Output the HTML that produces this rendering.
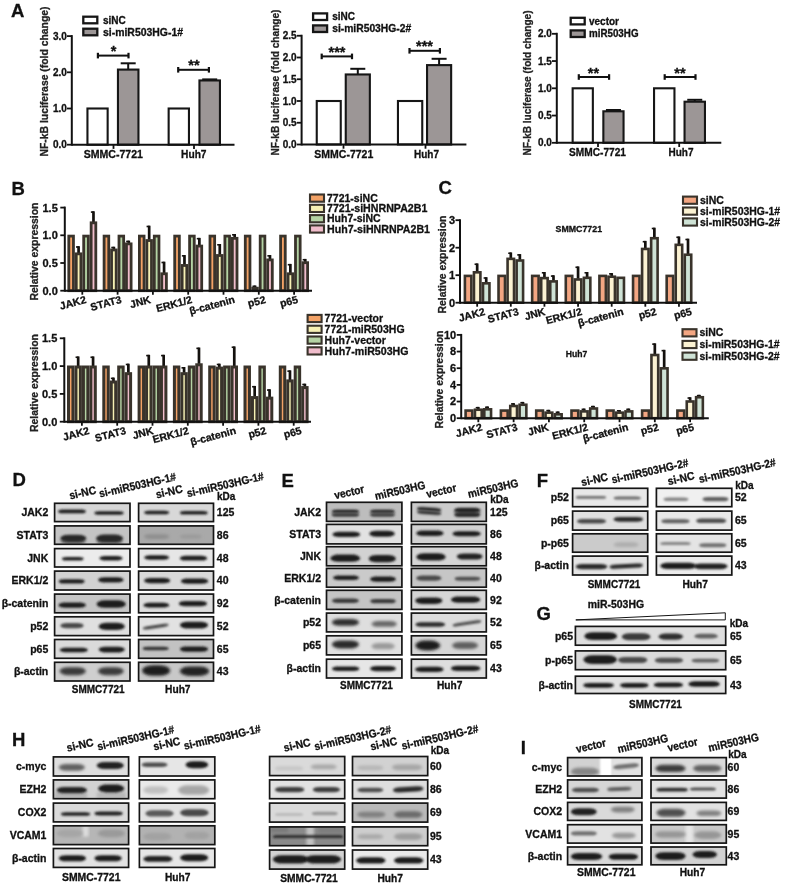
<!DOCTYPE html>
<html><head><meta charset="utf-8"><title>Figure</title>
<style>
html,body{margin:0;padding:0;background:#fff;}
body{width:785px;height:885px;overflow:hidden;}
svg{display:block;font-family:"Liberation Sans", Arial, sans-serif;}
</style></head><body>
<svg width="785" height="885" viewBox="0 0 785 885">
<rect width="785" height="885" fill="#ffffff"/>
<defs>
<filter id="bl1" x="-20%" y="-100%" width="140%" height="300%"><feGaussianBlur stdDeviation="0.8"/></filter>
<filter id="bl2" x="-20%" y="-100%" width="140%" height="300%"><feGaussianBlur stdDeviation="1.6"/></filter>
<filter id="bl3" x="-30%" y="-150%" width="160%" height="400%"><feGaussianBlur stdDeviation="2.6"/></filter>
</defs>
<text x="11" y="16.8" font-size="18.5" font-weight="bold" fill="#111" stroke="#111" stroke-width="0.3">A</text>
<rect x="87.45" y="108.50" width="20.20" height="36.20" fill="#ffffff" stroke="#161616" stroke-width="2.1"/>
<line x1="128.2" y1="69.58499999999998" x2="128.2" y2="63.3" stroke="#111" stroke-width="2.0" stroke-linecap="butt"/>
<line x1="120.69999999999999" y1="63.3" x2="135.7" y2="63.3" stroke="#111" stroke-width="2.0" stroke-linecap="butt"/>
<rect x="117.95" y="69.58" width="20.50" height="75.12" fill="#9c9696" stroke="#161616" stroke-width="2.1"/>
<rect x="168.65" y="108.50" width="20.30" height="36.20" fill="#ffffff" stroke="#161616" stroke-width="2.1"/>
<line x1="209.7" y1="80.445" x2="209.7" y2="79.4" stroke="#111" stroke-width="2.0" stroke-linecap="butt"/>
<line x1="202.2" y1="79.4" x2="217.2" y2="79.4" stroke="#111" stroke-width="2.0" stroke-linecap="butt"/>
<rect x="199.45" y="80.44" width="20.50" height="64.25" fill="#9c9696" stroke="#161616" stroke-width="2.1"/>
<line x1="71.8" y1="35.09999999999998" x2="71.8" y2="145.7" stroke="#111" stroke-width="2.0" stroke-linecap="butt"/>
<line x1="71.8" y1="144.7" x2="234.5" y2="144.7" stroke="#111" stroke-width="2.0" stroke-linecap="butt"/>
<line x1="67.0" y1="144.7" x2="71.8" y2="144.7" stroke="#111" stroke-width="1.8" stroke-linecap="butt"/>
<text x="66.8" y="148.29999999999998" font-size="10" font-weight="bold" text-anchor="end" fill="#111" stroke="#111" stroke-width="0.3">0.0</text>
<line x1="67.0" y1="108.49999999999999" x2="71.8" y2="108.49999999999999" stroke="#111" stroke-width="1.8" stroke-linecap="butt"/>
<text x="66.8" y="112.09999999999998" font-size="10" font-weight="bold" text-anchor="end" fill="#111" stroke="#111" stroke-width="0.3">1.0</text>
<line x1="67.0" y1="72.29999999999998" x2="71.8" y2="72.29999999999998" stroke="#111" stroke-width="1.8" stroke-linecap="butt"/>
<text x="66.8" y="75.89999999999998" font-size="10" font-weight="bold" text-anchor="end" fill="#111" stroke="#111" stroke-width="0.3">2.0</text>
<line x1="67.0" y1="36.09999999999998" x2="71.8" y2="36.09999999999998" stroke="#111" stroke-width="1.8" stroke-linecap="butt"/>
<text x="66.8" y="39.69999999999998" font-size="10" font-weight="bold" text-anchor="end" fill="#111" stroke="#111" stroke-width="0.3">3.0</text>
<line x1="113.5" y1="144.7" x2="113.5" y2="148.89999999999998" stroke="#111" stroke-width="1.8" stroke-linecap="butt"/>
<text x="113.3" y="157.79999999999998" font-size="10.8" font-weight="bold" text-anchor="middle" textLength="59.3" lengthAdjust="spacingAndGlyphs" fill="#111" stroke="#111" stroke-width="0.3">SMMC-7721</text>
<line x1="194" y1="144.7" x2="194" y2="148.89999999999998" stroke="#111" stroke-width="1.8" stroke-linecap="butt"/>
<text x="193.8" y="157.79999999999998" font-size="10.8" font-weight="bold" text-anchor="middle" textLength="25.5" lengthAdjust="spacingAndGlyphs" fill="#111" stroke="#111" stroke-width="0.3">Huh7</text>
<text x="48" y="81.5" font-size="10.5" font-weight="bold" text-anchor="middle" transform="rotate(-90 48 81.5)" textLength="150" lengthAdjust="spacingAndGlyphs" fill="#222" stroke="#222" stroke-width="0.3">NF-kB luciferase (fold change)</text>
<rect x="83.30" y="16.70" width="14.00" height="6.60" fill="#ffffff" stroke="#161616" stroke-width="2.3"/>
<text x="103" y="23.6" font-size="10" font-weight="bold" fill="#111" stroke="#111" stroke-width="0.3">siNC</text>
<rect x="83.30" y="28.70" width="14.00" height="6.60" fill="#9c9696" stroke="#161616" stroke-width="2.3"/>
<text x="103" y="35.6" font-size="10" font-weight="bold" textLength="80" lengthAdjust="spacingAndGlyphs" fill="#111" stroke="#111" stroke-width="0.3">si-miR503HG-1#</text>
<line x1="97.9" y1="55.6" x2="128.5" y2="55.6" stroke="#111" stroke-width="2.0" stroke-linecap="butt"/>
<line x1="97.9" y1="52.800000000000004" x2="97.9" y2="58.4" stroke="#111" stroke-width="2.2" stroke-linecap="butt"/>
<line x1="128.5" y1="52.800000000000004" x2="128.5" y2="58.4" stroke="#111" stroke-width="2.2" stroke-linecap="butt"/>
<text x="113.5" y="56.2" font-size="14.5" font-weight="bold" text-anchor="middle" fill="#111" stroke="#111" stroke-width="0.3">*</text>
<line x1="178.2" y1="69.8" x2="208.9" y2="69.8" stroke="#111" stroke-width="2.0" stroke-linecap="butt"/>
<line x1="178.2" y1="67.0" x2="178.2" y2="72.6" stroke="#111" stroke-width="2.2" stroke-linecap="butt"/>
<line x1="208.9" y1="67.0" x2="208.9" y2="72.6" stroke="#111" stroke-width="2.2" stroke-linecap="butt"/>
<text x="194" y="70.39999999999999" font-size="14.5" font-weight="bold" text-anchor="middle" fill="#111" stroke="#111" stroke-width="0.3">**</text>
<rect x="316.75" y="101.00" width="24.00" height="43.50" fill="#ffffff" stroke="#161616" stroke-width="2.1"/>
<line x1="357.79999999999995" y1="74.46499999999999" x2="357.79999999999995" y2="68.8" stroke="#111" stroke-width="2.0" stroke-linecap="butt"/>
<line x1="350.29999999999995" y1="68.8" x2="365.29999999999995" y2="68.8" stroke="#111" stroke-width="2.0" stroke-linecap="butt"/>
<rect x="345.75" y="74.46" width="24.10" height="70.04" fill="#9c9696" stroke="#161616" stroke-width="2.1"/>
<rect x="397.95" y="101.00" width="24.30" height="43.50" fill="#ffffff" stroke="#161616" stroke-width="2.1"/>
<line x1="439.1" y1="65.1125" x2="439.1" y2="58.8" stroke="#111" stroke-width="2.0" stroke-linecap="butt"/>
<line x1="431.6" y1="58.8" x2="446.6" y2="58.8" stroke="#111" stroke-width="2.0" stroke-linecap="butt"/>
<rect x="427.05" y="65.11" width="24.10" height="79.39" fill="#9c9696" stroke="#161616" stroke-width="2.1"/>
<line x1="301.6" y1="34.75" x2="301.6" y2="145.5" stroke="#111" stroke-width="2.0" stroke-linecap="butt"/>
<line x1="301.6" y1="144.5" x2="466.4" y2="144.5" stroke="#111" stroke-width="2.0" stroke-linecap="butt"/>
<line x1="296.8" y1="144.5" x2="301.6" y2="144.5" stroke="#111" stroke-width="1.8" stroke-linecap="butt"/>
<text x="296.6" y="148.1" font-size="10" font-weight="bold" text-anchor="end" fill="#111" stroke="#111" stroke-width="0.3">0.0</text>
<line x1="296.8" y1="122.75" x2="301.6" y2="122.75" stroke="#111" stroke-width="1.8" stroke-linecap="butt"/>
<text x="296.6" y="126.35" font-size="10" font-weight="bold" text-anchor="end" fill="#111" stroke="#111" stroke-width="0.3">0.5</text>
<line x1="296.8" y1="101.0" x2="301.6" y2="101.0" stroke="#111" stroke-width="1.8" stroke-linecap="butt"/>
<text x="296.6" y="104.6" font-size="10" font-weight="bold" text-anchor="end" fill="#111" stroke="#111" stroke-width="0.3">1.0</text>
<line x1="296.8" y1="79.25" x2="301.6" y2="79.25" stroke="#111" stroke-width="1.8" stroke-linecap="butt"/>
<text x="296.6" y="82.85" font-size="10" font-weight="bold" text-anchor="end" fill="#111" stroke="#111" stroke-width="0.3">1.5</text>
<line x1="296.8" y1="57.5" x2="301.6" y2="57.5" stroke="#111" stroke-width="1.8" stroke-linecap="butt"/>
<text x="296.6" y="61.1" font-size="10" font-weight="bold" text-anchor="end" fill="#111" stroke="#111" stroke-width="0.3">2.0</text>
<line x1="296.8" y1="35.75" x2="301.6" y2="35.75" stroke="#111" stroke-width="1.8" stroke-linecap="butt"/>
<text x="296.6" y="39.35" font-size="10" font-weight="bold" text-anchor="end" fill="#111" stroke="#111" stroke-width="0.3">2.5</text>
<line x1="343.5" y1="144.5" x2="343.5" y2="148.7" stroke="#111" stroke-width="1.8" stroke-linecap="butt"/>
<text x="343.8" y="157.6" font-size="10.8" font-weight="bold" text-anchor="middle" textLength="59" lengthAdjust="spacingAndGlyphs" fill="#111" stroke="#111" stroke-width="0.3">SMMC-7721</text>
<line x1="425.5" y1="144.5" x2="425.5" y2="148.7" stroke="#111" stroke-width="1.8" stroke-linecap="butt"/>
<text x="426.5" y="157.6" font-size="10.8" font-weight="bold" text-anchor="middle" textLength="25" lengthAdjust="spacingAndGlyphs" fill="#111" stroke="#111" stroke-width="0.3">Huh7</text>
<text x="279.4" y="82.5" font-size="10.5" font-weight="bold" text-anchor="middle" transform="rotate(-90 279.4 82.5)" textLength="146" lengthAdjust="spacingAndGlyphs" fill="#222" stroke="#222" stroke-width="0.3">NF-kB luciferase (fold change)</text>
<rect x="313.10" y="13.40" width="14.00" height="6.60" fill="#ffffff" stroke="#161616" stroke-width="2.3"/>
<text x="332.2" y="20.3" font-size="10" font-weight="bold" fill="#111" stroke="#111" stroke-width="0.3">siNC</text>
<rect x="313.10" y="25.40" width="14.00" height="6.60" fill="#9c9696" stroke="#161616" stroke-width="2.3"/>
<text x="332.2" y="32.3" font-size="10" font-weight="bold" textLength="79" lengthAdjust="spacingAndGlyphs" fill="#111" stroke="#111" stroke-width="0.3">si-miR503HG-2#</text>
<line x1="321.7" y1="56.4" x2="352" y2="56.4" stroke="#111" stroke-width="2.0" stroke-linecap="butt"/>
<line x1="321.7" y1="53.6" x2="321.7" y2="59.199999999999996" stroke="#111" stroke-width="2.2" stroke-linecap="butt"/>
<line x1="352" y1="53.6" x2="352" y2="59.199999999999996" stroke="#111" stroke-width="2.2" stroke-linecap="butt"/>
<text x="337" y="57.0" font-size="14.5" font-weight="bold" text-anchor="middle" fill="#111" stroke="#111" stroke-width="0.3">***</text>
<line x1="409.5" y1="50.8" x2="439.9" y2="50.8" stroke="#111" stroke-width="2.0" stroke-linecap="butt"/>
<line x1="409.5" y1="48.0" x2="409.5" y2="53.599999999999994" stroke="#111" stroke-width="2.2" stroke-linecap="butt"/>
<line x1="439.9" y1="48.0" x2="439.9" y2="53.599999999999994" stroke="#111" stroke-width="2.2" stroke-linecap="butt"/>
<text x="424.5" y="51.4" font-size="14.5" font-weight="bold" text-anchor="middle" fill="#111" stroke="#111" stroke-width="0.3">***</text>
<rect x="572.65" y="88.30" width="20.20" height="54.50" fill="#ffffff" stroke="#161616" stroke-width="2.1"/>
<line x1="613.45" y1="111.299" x2="613.45" y2="110.0" stroke="#111" stroke-width="2.0" stroke-linecap="butt"/>
<line x1="605.95" y1="110.0" x2="620.95" y2="110.0" stroke="#111" stroke-width="2.0" stroke-linecap="butt"/>
<rect x="603.35" y="111.30" width="20.20" height="31.50" fill="#9c9696" stroke="#161616" stroke-width="2.1"/>
<rect x="654.05" y="88.30" width="20.40" height="54.50" fill="#ffffff" stroke="#161616" stroke-width="2.1"/>
<line x1="694.75" y1="101.70700000000001" x2="694.75" y2="99.8" stroke="#111" stroke-width="2.0" stroke-linecap="butt"/>
<line x1="687.25" y1="99.8" x2="702.25" y2="99.8" stroke="#111" stroke-width="2.0" stroke-linecap="butt"/>
<rect x="684.55" y="101.71" width="20.40" height="41.09" fill="#9c9696" stroke="#161616" stroke-width="2.1"/>
<line x1="556.8" y1="32.80000000000001" x2="556.8" y2="143.8" stroke="#111" stroke-width="2.0" stroke-linecap="butt"/>
<line x1="556.8" y1="142.8" x2="721.3" y2="142.8" stroke="#111" stroke-width="2.0" stroke-linecap="butt"/>
<line x1="552.0" y1="142.8" x2="556.8" y2="142.8" stroke="#111" stroke-width="1.8" stroke-linecap="butt"/>
<text x="551.8" y="146.4" font-size="10" font-weight="bold" text-anchor="end" fill="#111" stroke="#111" stroke-width="0.3">0.0</text>
<line x1="552.0" y1="115.55000000000001" x2="556.8" y2="115.55000000000001" stroke="#111" stroke-width="1.8" stroke-linecap="butt"/>
<text x="551.8" y="119.15" font-size="10" font-weight="bold" text-anchor="end" fill="#111" stroke="#111" stroke-width="0.3">0.5</text>
<line x1="552.0" y1="88.30000000000001" x2="556.8" y2="88.30000000000001" stroke="#111" stroke-width="1.8" stroke-linecap="butt"/>
<text x="551.8" y="91.9" font-size="10" font-weight="bold" text-anchor="end" fill="#111" stroke="#111" stroke-width="0.3">1.0</text>
<line x1="552.0" y1="61.05000000000001" x2="556.8" y2="61.05000000000001" stroke="#111" stroke-width="1.8" stroke-linecap="butt"/>
<text x="551.8" y="64.65" font-size="10" font-weight="bold" text-anchor="end" fill="#111" stroke="#111" stroke-width="0.3">1.5</text>
<line x1="552.0" y1="33.80000000000001" x2="556.8" y2="33.80000000000001" stroke="#111" stroke-width="1.8" stroke-linecap="butt"/>
<text x="551.8" y="37.40000000000001" font-size="10" font-weight="bold" text-anchor="end" fill="#111" stroke="#111" stroke-width="0.3">2.0</text>
<line x1="598" y1="142.8" x2="598" y2="147.0" stroke="#111" stroke-width="1.8" stroke-linecap="butt"/>
<text x="597.5" y="155.9" font-size="10.8" font-weight="bold" text-anchor="middle" textLength="57" lengthAdjust="spacingAndGlyphs" fill="#111" stroke="#111" stroke-width="0.3">SMMC-7721</text>
<line x1="679.2" y1="142.8" x2="679.2" y2="147.0" stroke="#111" stroke-width="1.8" stroke-linecap="butt"/>
<text x="681" y="155.9" font-size="10.8" font-weight="bold" text-anchor="middle" textLength="25" lengthAdjust="spacingAndGlyphs" fill="#111" stroke="#111" stroke-width="0.3">Huh7</text>
<text x="531.4" y="83" font-size="10.5" font-weight="bold" text-anchor="middle" transform="rotate(-90 531.4 83)" textLength="145" lengthAdjust="spacingAndGlyphs" fill="#222" stroke="#222" stroke-width="0.3">NF-kB luciferase (fold change)</text>
<rect x="570.70" y="17.80" width="14.00" height="6.60" fill="#ffffff" stroke="#161616" stroke-width="2.3"/>
<text x="589" y="24.7" font-size="10" font-weight="bold" fill="#111" stroke="#111" stroke-width="0.3">vector</text>
<rect x="570.70" y="30.40" width="14.00" height="6.60" fill="#9c9696" stroke="#161616" stroke-width="2.3"/>
<text x="589" y="37.3" font-size="10" font-weight="bold" textLength="49.5" lengthAdjust="spacingAndGlyphs" fill="#111" stroke="#111" stroke-width="0.3">miR503HG</text>
<line x1="578.8" y1="77" x2="609.1" y2="77" stroke="#111" stroke-width="2.0" stroke-linecap="butt"/>
<line x1="578.8" y1="74.2" x2="578.8" y2="79.8" stroke="#111" stroke-width="2.2" stroke-linecap="butt"/>
<line x1="609.1" y1="74.2" x2="609.1" y2="79.8" stroke="#111" stroke-width="2.2" stroke-linecap="butt"/>
<text x="593.5" y="77.6" font-size="14.5" font-weight="bold" text-anchor="middle" fill="#111" stroke="#111" stroke-width="0.3">**</text>
<line x1="664.7" y1="77" x2="695.5" y2="77" stroke="#111" stroke-width="2.0" stroke-linecap="butt"/>
<line x1="664.7" y1="74.2" x2="664.7" y2="79.8" stroke="#111" stroke-width="2.2" stroke-linecap="butt"/>
<line x1="695.5" y1="74.2" x2="695.5" y2="79.8" stroke="#111" stroke-width="2.2" stroke-linecap="butt"/>
<text x="680" y="77.6" font-size="14.5" font-weight="bold" text-anchor="middle" fill="#111" stroke="#111" stroke-width="0.3">**</text>
<text x="11.5" y="194.6" font-size="18.5" font-weight="bold" fill="#111" stroke="#111" stroke-width="0.3">B</text>
<rect x="68.80" y="236.10" width="4.65" height="54.60" fill="#f3a266" stroke="#39332b" stroke-width="2.8"/>
<line x1="78.575" y1="253.028" x2="78.575" y2="246.188" stroke="#14110e" stroke-width="2.7" stroke-linecap="butt"/>
<line x1="75.97500000000001" y1="246.988" x2="79.075" y2="246.988" stroke="#14110e" stroke-width="1.6" stroke-linecap="butt"/>
<rect x="76.25" y="253.83" width="4.65" height="36.87" fill="#f6f0b4" stroke="#39332b" stroke-width="2.8"/>
<rect x="83.70" y="236.10" width="4.65" height="54.60" fill="#b4d3a4" stroke="#39332b" stroke-width="2.8"/>
<line x1="93.475" y1="222.004" x2="93.475" y2="211.286" stroke="#14110e" stroke-width="2.7" stroke-linecap="butt"/>
<line x1="90.875" y1="212.086" x2="93.975" y2="212.086" stroke="#14110e" stroke-width="1.6" stroke-linecap="butt"/>
<rect x="91.15" y="222.80" width="4.65" height="67.90" fill="#f0bccb" stroke="#39332b" stroke-width="2.8"/>
<rect x="104.10" y="236.10" width="4.65" height="54.60" fill="#f3a266" stroke="#39332b" stroke-width="2.8"/>
<line x1="113.875" y1="249.14999999999998" x2="113.875" y2="246.74199999999996" stroke="#14110e" stroke-width="2.7" stroke-linecap="butt"/>
<line x1="111.275" y1="247.54199999999997" x2="114.375" y2="247.54199999999997" stroke="#14110e" stroke-width="1.6" stroke-linecap="butt"/>
<rect x="111.55" y="249.95" width="4.65" height="40.75" fill="#f6f0b4" stroke="#39332b" stroke-width="2.8"/>
<rect x="119.00" y="236.10" width="4.65" height="54.60" fill="#b4d3a4" stroke="#39332b" stroke-width="2.8"/>
<line x1="128.775" y1="243.05599999999998" x2="128.775" y2="240.64799999999997" stroke="#14110e" stroke-width="2.7" stroke-linecap="butt"/>
<line x1="126.17500000000001" y1="241.44799999999998" x2="129.275" y2="241.44799999999998" stroke="#14110e" stroke-width="1.6" stroke-linecap="butt"/>
<rect x="126.45" y="243.86" width="4.65" height="46.84" fill="#f0bccb" stroke="#39332b" stroke-width="2.8"/>
<rect x="139.40" y="236.10" width="4.65" height="54.60" fill="#f3a266" stroke="#39332b" stroke-width="2.8"/>
<line x1="149.17499999999998" y1="239.73199999999997" x2="149.17499999999998" y2="225.68999999999997" stroke="#14110e" stroke-width="2.7" stroke-linecap="butt"/>
<line x1="146.575" y1="226.48999999999998" x2="149.67499999999998" y2="226.48999999999998" stroke="#14110e" stroke-width="1.6" stroke-linecap="butt"/>
<rect x="146.85" y="240.53" width="4.65" height="50.17" fill="#f6f0b4" stroke="#39332b" stroke-width="2.8"/>
<rect x="154.30" y="236.10" width="4.65" height="54.60" fill="#b4d3a4" stroke="#39332b" stroke-width="2.8"/>
<line x1="164.075" y1="272.972" x2="164.075" y2="261.7" stroke="#14110e" stroke-width="2.7" stroke-linecap="butt"/>
<line x1="161.475" y1="262.5" x2="164.575" y2="262.5" stroke="#14110e" stroke-width="1.6" stroke-linecap="butt"/>
<rect x="161.75" y="273.77" width="4.65" height="16.93" fill="#f0bccb" stroke="#39332b" stroke-width="2.8"/>
<rect x="174.70" y="236.10" width="4.65" height="54.60" fill="#f3a266" stroke="#39332b" stroke-width="2.8"/>
<line x1="184.475" y1="264.662" x2="184.475" y2="255.05199999999996" stroke="#14110e" stroke-width="2.7" stroke-linecap="butt"/>
<line x1="181.875" y1="255.85199999999998" x2="184.975" y2="255.85199999999998" stroke="#14110e" stroke-width="1.6" stroke-linecap="butt"/>
<rect x="182.15" y="265.46" width="4.65" height="25.24" fill="#f6f0b4" stroke="#39332b" stroke-width="2.8"/>
<rect x="189.60" y="236.10" width="4.65" height="54.60" fill="#b4d3a4" stroke="#39332b" stroke-width="2.8"/>
<line x1="199.375" y1="245.272" x2="199.375" y2="237.878" stroke="#14110e" stroke-width="2.7" stroke-linecap="butt"/>
<line x1="196.775" y1="238.678" x2="199.875" y2="238.678" stroke="#14110e" stroke-width="1.6" stroke-linecap="butt"/>
<rect x="197.05" y="246.07" width="4.65" height="44.63" fill="#f0bccb" stroke="#39332b" stroke-width="2.8"/>
<rect x="210.00" y="236.10" width="4.65" height="54.60" fill="#f3a266" stroke="#39332b" stroke-width="2.8"/>
<line x1="219.77499999999998" y1="254.69" x2="219.77499999999998" y2="243.97199999999998" stroke="#14110e" stroke-width="2.7" stroke-linecap="butt"/>
<line x1="217.17499999999998" y1="244.772" x2="220.27499999999998" y2="244.772" stroke="#14110e" stroke-width="1.6" stroke-linecap="butt"/>
<rect x="217.45" y="255.49" width="4.65" height="35.21" fill="#f6f0b4" stroke="#39332b" stroke-width="2.8"/>
<rect x="224.90" y="236.10" width="4.65" height="54.60" fill="#b4d3a4" stroke="#39332b" stroke-width="2.8"/>
<line x1="234.67499999999998" y1="237.516" x2="234.67499999999998" y2="233.99999999999997" stroke="#14110e" stroke-width="2.7" stroke-linecap="butt"/>
<line x1="232.075" y1="234.79999999999998" x2="235.17499999999998" y2="234.79999999999998" stroke="#14110e" stroke-width="1.6" stroke-linecap="butt"/>
<rect x="232.35" y="238.32" width="4.65" height="52.38" fill="#f0bccb" stroke="#39332b" stroke-width="2.8"/>
<rect x="245.30" y="236.10" width="4.65" height="54.60" fill="#f3a266" stroke="#39332b" stroke-width="2.8"/>
<line x1="255.075" y1="287.376" x2="255.075" y2="285.522" stroke="#14110e" stroke-width="2.7" stroke-linecap="butt"/>
<line x1="252.475" y1="286.322" x2="255.575" y2="286.322" stroke="#14110e" stroke-width="1.6" stroke-linecap="butt"/>
<rect x="252.75" y="288.18" width="4.65" height="2.52" fill="#f6f0b4" stroke="#39332b" stroke-width="2.8"/>
<rect x="260.20" y="236.10" width="4.65" height="54.60" fill="#b4d3a4" stroke="#39332b" stroke-width="2.8"/>
<line x1="269.975" y1="259.122" x2="269.975" y2="255.05199999999996" stroke="#14110e" stroke-width="2.7" stroke-linecap="butt"/>
<line x1="267.375" y1="255.85199999999998" x2="270.475" y2="255.85199999999998" stroke="#14110e" stroke-width="1.6" stroke-linecap="butt"/>
<rect x="267.65" y="259.92" width="4.65" height="30.78" fill="#f0bccb" stroke="#39332b" stroke-width="2.8"/>
<rect x="280.60" y="236.10" width="4.65" height="54.60" fill="#f3a266" stroke="#39332b" stroke-width="2.8"/>
<line x1="290.375" y1="272.972" x2="290.375" y2="263.916" stroke="#14110e" stroke-width="2.7" stroke-linecap="butt"/>
<line x1="287.775" y1="264.716" x2="290.875" y2="264.716" stroke="#14110e" stroke-width="1.6" stroke-linecap="butt"/>
<rect x="288.05" y="273.77" width="4.65" height="16.93" fill="#f6f0b4" stroke="#39332b" stroke-width="2.8"/>
<rect x="295.50" y="236.10" width="4.65" height="54.60" fill="#b4d3a4" stroke="#39332b" stroke-width="2.8"/>
<line x1="305.27500000000003" y1="261.892" x2="305.27500000000003" y2="258.92999999999995" stroke="#14110e" stroke-width="2.7" stroke-linecap="butt"/>
<line x1="302.675" y1="259.72999999999996" x2="305.77500000000003" y2="259.72999999999996" stroke="#14110e" stroke-width="1.6" stroke-linecap="butt"/>
<rect x="302.95" y="262.69" width="4.65" height="28.01" fill="#f0bccb" stroke="#39332b" stroke-width="2.8"/>
<line x1="64.8" y1="206.6" x2="64.8" y2="291.7" stroke="#111" stroke-width="2.0" stroke-linecap="butt"/>
<line x1="64.8" y1="290.7" x2="312" y2="290.7" stroke="#111" stroke-width="2.0" stroke-linecap="butt"/>
<line x1="60.3" y1="290.7" x2="64.8" y2="290.7" stroke="#111" stroke-width="1.8" stroke-linecap="butt"/>
<text x="57.8" y="294.59999999999997" font-size="11" font-weight="bold" text-anchor="end" fill="#111" stroke="#111" stroke-width="0.3">0.0</text>
<line x1="60.3" y1="263.0" x2="64.8" y2="263.0" stroke="#111" stroke-width="1.8" stroke-linecap="butt"/>
<text x="57.8" y="266.9" font-size="11" font-weight="bold" text-anchor="end" fill="#111" stroke="#111" stroke-width="0.3">0.5</text>
<line x1="60.3" y1="235.29999999999998" x2="64.8" y2="235.29999999999998" stroke="#111" stroke-width="1.8" stroke-linecap="butt"/>
<text x="57.8" y="239.2" font-size="11" font-weight="bold" text-anchor="end" fill="#111" stroke="#111" stroke-width="0.3">1.0</text>
<line x1="60.3" y1="207.6" x2="64.8" y2="207.6" stroke="#111" stroke-width="1.8" stroke-linecap="butt"/>
<text x="57.8" y="211.5" font-size="11" font-weight="bold" text-anchor="end" fill="#111" stroke="#111" stroke-width="0.3">1.5</text>
<line x1="82.30000000000001" y1="290.7" x2="82.30000000000001" y2="294.7" stroke="#111" stroke-width="1.8" stroke-linecap="butt"/>
<text x="86.8" y="302.7" font-size="10.5" font-weight="bold" text-anchor="end" transform="rotate(-15 86.8 302.7)" fill="#111" stroke="#111" stroke-width="0.3">JAK2</text>
<line x1="117.60000000000001" y1="290.7" x2="117.60000000000001" y2="294.7" stroke="#111" stroke-width="1.8" stroke-linecap="butt"/>
<text x="122.1" y="302.7" font-size="10.5" font-weight="bold" text-anchor="end" transform="rotate(-15 122.1 302.7)" fill="#111" stroke="#111" stroke-width="0.3">STAT3</text>
<line x1="152.9" y1="290.7" x2="152.9" y2="294.7" stroke="#111" stroke-width="1.8" stroke-linecap="butt"/>
<text x="151.4" y="302.7" font-size="10.5" font-weight="bold" text-anchor="end" transform="rotate(-15 151.4 302.7)" fill="#111" stroke="#111" stroke-width="0.3">JNK</text>
<line x1="188.20000000000002" y1="290.7" x2="188.20000000000002" y2="294.7" stroke="#111" stroke-width="1.8" stroke-linecap="butt"/>
<text x="192.7" y="302.7" font-size="10.5" font-weight="bold" text-anchor="end" transform="rotate(-15 192.7 302.7)" fill="#111" stroke="#111" stroke-width="0.3">ERK1/2</text>
<line x1="223.5" y1="290.7" x2="223.5" y2="294.7" stroke="#111" stroke-width="1.8" stroke-linecap="butt"/>
<text x="235.5" y="302.7" font-size="10.5" font-weight="bold" text-anchor="end" transform="rotate(-15 235.5 302.7)" fill="#111" stroke="#111" stroke-width="0.3">β-catenin</text>
<line x1="258.8" y1="290.7" x2="258.8" y2="294.7" stroke="#111" stroke-width="1.8" stroke-linecap="butt"/>
<text x="266.3" y="302.7" font-size="10.5" font-weight="bold" text-anchor="end" transform="rotate(-15 266.3 302.7)" fill="#111" stroke="#111" stroke-width="0.3">p52</text>
<line x1="294.09999999999997" y1="290.7" x2="294.09999999999997" y2="294.7" stroke="#111" stroke-width="1.8" stroke-linecap="butt"/>
<text x="298.6" y="302.7" font-size="10.5" font-weight="bold" text-anchor="end" transform="rotate(-15 298.6 302.7)" fill="#111" stroke="#111" stroke-width="0.3">p65</text>
<text x="37.5" y="251.5" font-size="10.5" font-weight="bold" text-anchor="middle" transform="rotate(-90 37.5 251.5)" textLength="98" lengthAdjust="spacingAndGlyphs" fill="#222" stroke="#222" stroke-width="0.3">Relative expression</text>
<rect x="310.00" y="194.50" width="14.00" height="7.20" fill="#f3a266" stroke="#39332b" stroke-width="2.1"/>
<text x="327" y="201.7" font-size="10.5" font-weight="bold" fill="#111" stroke="#111" stroke-width="0.3">7721-siNC</text>
<rect x="310.00" y="204.80" width="14.00" height="7.20" fill="#f6f0b4" stroke="#39332b" stroke-width="2.1"/>
<text x="327" y="212.0" font-size="10.5" font-weight="bold" textLength="100.4" lengthAdjust="spacingAndGlyphs" fill="#111" stroke="#111" stroke-width="0.3">7721-siHNRNPA2B1</text>
<rect x="310.00" y="215.10" width="14.00" height="7.20" fill="#b4d3a4" stroke="#39332b" stroke-width="2.1"/>
<text x="327" y="222.29999999999998" font-size="10.5" font-weight="bold" fill="#111" stroke="#111" stroke-width="0.3">Huh7-siNC</text>
<rect x="310.00" y="225.40" width="14.00" height="7.20" fill="#f0bccb" stroke="#39332b" stroke-width="2.1"/>
<text x="327" y="232.6" font-size="10.5" font-weight="bold" textLength="103" lengthAdjust="spacingAndGlyphs" fill="#111" stroke="#111" stroke-width="0.3">Huh7-siHNRNPA2B1</text>
<rect x="68.50" y="367.00" width="4.45" height="54.70" fill="#f3a266" stroke="#39332b" stroke-width="3.0"/>
<line x1="78.175" y1="366.09999999999997" x2="78.175" y2="356.46" stroke="#14110e" stroke-width="2.7" stroke-linecap="butt"/>
<line x1="75.575" y1="357.26" x2="78.675" y2="357.26" stroke="#14110e" stroke-width="1.6" stroke-linecap="butt"/>
<rect x="75.95" y="367.00" width="4.45" height="54.70" fill="#f6f0b4" stroke="#39332b" stroke-width="3.0"/>
<rect x="83.40" y="367.00" width="4.45" height="54.70" fill="#b4d3a4" stroke="#39332b" stroke-width="3.0"/>
<line x1="93.07499999999999" y1="366.09999999999997" x2="93.07499999999999" y2="356.46" stroke="#14110e" stroke-width="2.7" stroke-linecap="butt"/>
<line x1="90.475" y1="357.26" x2="93.57499999999999" y2="357.26" stroke="#14110e" stroke-width="1.6" stroke-linecap="butt"/>
<rect x="90.85" y="367.00" width="4.45" height="54.70" fill="#f0bccb" stroke="#39332b" stroke-width="3.0"/>
<rect x="103.80" y="367.00" width="4.45" height="54.70" fill="#f3a266" stroke="#39332b" stroke-width="3.0"/>
<line x1="113.475" y1="381.11199999999997" x2="113.475" y2="377.58799999999997" stroke="#14110e" stroke-width="2.7" stroke-linecap="butt"/>
<line x1="110.875" y1="378.388" x2="113.975" y2="378.388" stroke="#14110e" stroke-width="1.6" stroke-linecap="butt"/>
<rect x="111.25" y="382.01" width="4.45" height="39.69" fill="#f6f0b4" stroke="#39332b" stroke-width="3.0"/>
<rect x="118.70" y="367.00" width="4.45" height="54.70" fill="#b4d3a4" stroke="#39332b" stroke-width="3.0"/>
<line x1="128.375" y1="372.772" x2="128.375" y2="363.688" stroke="#14110e" stroke-width="2.7" stroke-linecap="butt"/>
<line x1="125.775" y1="364.488" x2="128.875" y2="364.488" stroke="#14110e" stroke-width="1.6" stroke-linecap="butt"/>
<rect x="126.15" y="373.67" width="4.45" height="48.03" fill="#f0bccb" stroke="#39332b" stroke-width="3.0"/>
<rect x="139.10" y="367.00" width="4.45" height="54.70" fill="#f3a266" stroke="#39332b" stroke-width="3.0"/>
<line x1="148.77499999999998" y1="366.09999999999997" x2="148.77499999999998" y2="354.792" stroke="#14110e" stroke-width="2.7" stroke-linecap="butt"/>
<line x1="146.17499999999998" y1="355.592" x2="149.27499999999998" y2="355.592" stroke="#14110e" stroke-width="1.6" stroke-linecap="butt"/>
<rect x="146.55" y="367.00" width="4.45" height="54.70" fill="#f6f0b4" stroke="#39332b" stroke-width="3.0"/>
<rect x="154.00" y="367.00" width="4.45" height="54.70" fill="#b4d3a4" stroke="#39332b" stroke-width="3.0"/>
<line x1="163.67499999999998" y1="366.09999999999997" x2="163.67499999999998" y2="354.792" stroke="#14110e" stroke-width="2.7" stroke-linecap="butt"/>
<line x1="161.075" y1="355.592" x2="164.17499999999998" y2="355.592" stroke="#14110e" stroke-width="1.6" stroke-linecap="butt"/>
<rect x="161.45" y="367.00" width="4.45" height="54.70" fill="#f0bccb" stroke="#39332b" stroke-width="3.0"/>
<rect x="174.40" y="367.00" width="4.45" height="54.70" fill="#f3a266" stroke="#39332b" stroke-width="3.0"/>
<line x1="184.07499999999996" y1="372.772" x2="184.07499999999996" y2="367.024" stroke="#14110e" stroke-width="2.7" stroke-linecap="butt"/>
<line x1="181.47499999999997" y1="367.824" x2="184.57499999999996" y2="367.824" stroke="#14110e" stroke-width="1.6" stroke-linecap="butt"/>
<rect x="181.85" y="373.67" width="4.45" height="48.03" fill="#f6f0b4" stroke="#39332b" stroke-width="3.0"/>
<rect x="189.30" y="367.00" width="4.45" height="54.70" fill="#b4d3a4" stroke="#39332b" stroke-width="3.0"/>
<line x1="198.97499999999997" y1="363.876" x2="198.97499999999997" y2="347.56399999999996" stroke="#14110e" stroke-width="2.7" stroke-linecap="butt"/>
<line x1="196.37499999999997" y1="348.364" x2="199.47499999999997" y2="348.364" stroke="#14110e" stroke-width="1.6" stroke-linecap="butt"/>
<rect x="196.75" y="364.78" width="4.45" height="56.92" fill="#f0bccb" stroke="#39332b" stroke-width="3.0"/>
<rect x="209.70" y="367.00" width="4.45" height="54.70" fill="#f3a266" stroke="#39332b" stroke-width="3.0"/>
<line x1="219.37499999999997" y1="367.212" x2="219.37499999999997" y2="363.688" stroke="#14110e" stroke-width="2.7" stroke-linecap="butt"/>
<line x1="216.77499999999998" y1="364.488" x2="219.87499999999997" y2="364.488" stroke="#14110e" stroke-width="1.6" stroke-linecap="butt"/>
<rect x="217.15" y="368.11" width="4.45" height="53.59" fill="#f6f0b4" stroke="#39332b" stroke-width="3.0"/>
<rect x="224.60" y="367.00" width="4.45" height="54.70" fill="#b4d3a4" stroke="#39332b" stroke-width="3.0"/>
<line x1="234.27499999999998" y1="366.09999999999997" x2="234.27499999999998" y2="346.45199999999994" stroke="#14110e" stroke-width="2.7" stroke-linecap="butt"/>
<line x1="231.67499999999998" y1="347.25199999999995" x2="234.77499999999998" y2="347.25199999999995" stroke="#14110e" stroke-width="1.6" stroke-linecap="butt"/>
<rect x="232.05" y="367.00" width="4.45" height="54.70" fill="#f0bccb" stroke="#39332b" stroke-width="3.0"/>
<rect x="245.00" y="367.00" width="4.45" height="54.70" fill="#f3a266" stroke="#39332b" stroke-width="3.0"/>
<line x1="254.67499999999998" y1="396.68" x2="254.67499999999998" y2="385.928" stroke="#14110e" stroke-width="2.7" stroke-linecap="butt"/>
<line x1="252.075" y1="386.728" x2="255.17499999999998" y2="386.728" stroke="#14110e" stroke-width="1.6" stroke-linecap="butt"/>
<rect x="252.45" y="397.58" width="4.45" height="24.12" fill="#f6f0b4" stroke="#39332b" stroke-width="3.0"/>
<rect x="259.90" y="367.00" width="4.45" height="54.70" fill="#b4d3a4" stroke="#39332b" stroke-width="3.0"/>
<line x1="269.57500000000005" y1="397.236" x2="269.57500000000005" y2="389.26399999999995" stroke="#14110e" stroke-width="2.7" stroke-linecap="butt"/>
<line x1="266.975" y1="390.06399999999996" x2="270.07500000000005" y2="390.06399999999996" stroke="#14110e" stroke-width="1.6" stroke-linecap="butt"/>
<rect x="267.35" y="398.14" width="4.45" height="23.56" fill="#f0bccb" stroke="#39332b" stroke-width="3.0"/>
<rect x="280.30" y="367.00" width="4.45" height="54.70" fill="#f3a266" stroke="#39332b" stroke-width="3.0"/>
<line x1="289.97499999999997" y1="380.0" x2="289.97499999999997" y2="370.35999999999996" stroke="#14110e" stroke-width="2.7" stroke-linecap="butt"/>
<line x1="287.37499999999994" y1="371.15999999999997" x2="290.47499999999997" y2="371.15999999999997" stroke="#14110e" stroke-width="1.6" stroke-linecap="butt"/>
<rect x="287.75" y="380.90" width="4.45" height="40.80" fill="#f6f0b4" stroke="#39332b" stroke-width="3.0"/>
<rect x="295.20" y="367.00" width="4.45" height="54.70" fill="#b4d3a4" stroke="#39332b" stroke-width="3.0"/>
<line x1="304.875" y1="386.67199999999997" x2="304.875" y2="383.70399999999995" stroke="#14110e" stroke-width="2.7" stroke-linecap="butt"/>
<line x1="302.275" y1="384.50399999999996" x2="305.375" y2="384.50399999999996" stroke="#14110e" stroke-width="1.6" stroke-linecap="butt"/>
<rect x="302.65" y="387.57" width="4.45" height="34.13" fill="#f0bccb" stroke="#39332b" stroke-width="3.0"/>
<line x1="64.3" y1="337.29999999999995" x2="64.3" y2="422.7" stroke="#111" stroke-width="2.0" stroke-linecap="butt"/>
<line x1="64.3" y1="421.7" x2="311" y2="421.7" stroke="#111" stroke-width="2.0" stroke-linecap="butt"/>
<line x1="59.8" y1="421.7" x2="64.3" y2="421.7" stroke="#111" stroke-width="1.8" stroke-linecap="butt"/>
<text x="57.3" y="425.59999999999997" font-size="11" font-weight="bold" text-anchor="end" fill="#111" stroke="#111" stroke-width="0.3">0.0</text>
<line x1="59.8" y1="393.9" x2="64.3" y2="393.9" stroke="#111" stroke-width="1.8" stroke-linecap="butt"/>
<text x="57.3" y="397.79999999999995" font-size="11" font-weight="bold" text-anchor="end" fill="#111" stroke="#111" stroke-width="0.3">0.5</text>
<line x1="59.8" y1="366.09999999999997" x2="64.3" y2="366.09999999999997" stroke="#111" stroke-width="1.8" stroke-linecap="butt"/>
<text x="57.3" y="369.99999999999994" font-size="11" font-weight="bold" text-anchor="end" fill="#111" stroke="#111" stroke-width="0.3">1.0</text>
<line x1="59.8" y1="338.29999999999995" x2="64.3" y2="338.29999999999995" stroke="#111" stroke-width="1.8" stroke-linecap="butt"/>
<text x="57.3" y="342.19999999999993" font-size="11" font-weight="bold" text-anchor="end" fill="#111" stroke="#111" stroke-width="0.3">1.5</text>
<line x1="81.9" y1="421.7" x2="81.9" y2="425.7" stroke="#111" stroke-width="1.8" stroke-linecap="butt"/>
<text x="89.9" y="433.7" font-size="10.5" font-weight="bold" text-anchor="end" transform="rotate(-15 89.9 433.7)" fill="#111" stroke="#111" stroke-width="0.3">JAK2</text>
<line x1="117.2" y1="421.7" x2="117.2" y2="425.7" stroke="#111" stroke-width="1.8" stroke-linecap="butt"/>
<text x="126.7" y="433.7" font-size="10.5" font-weight="bold" text-anchor="end" transform="rotate(-15 126.7 433.7)" fill="#111" stroke="#111" stroke-width="0.3">STAT3</text>
<line x1="152.5" y1="421.7" x2="152.5" y2="425.7" stroke="#111" stroke-width="1.8" stroke-linecap="butt"/>
<text x="154.0" y="433.7" font-size="10.5" font-weight="bold" text-anchor="end" transform="rotate(-15 154.0 433.7)" fill="#111" stroke="#111" stroke-width="0.3">JNK</text>
<line x1="187.79999999999998" y1="421.7" x2="187.79999999999998" y2="425.7" stroke="#111" stroke-width="1.8" stroke-linecap="butt"/>
<text x="189.3" y="433.7" font-size="10.5" font-weight="bold" text-anchor="end" transform="rotate(-15 189.3 433.7)" fill="#111" stroke="#111" stroke-width="0.3">ERK1/2</text>
<line x1="223.1" y1="421.7" x2="223.1" y2="425.7" stroke="#111" stroke-width="1.8" stroke-linecap="butt"/>
<text x="236.6" y="433.7" font-size="10.5" font-weight="bold" text-anchor="end" transform="rotate(-15 236.6 433.7)" fill="#111" stroke="#111" stroke-width="0.3">β-catenin</text>
<line x1="258.4" y1="421.7" x2="258.4" y2="425.7" stroke="#111" stroke-width="1.8" stroke-linecap="butt"/>
<text x="266.9" y="433.7" font-size="10.5" font-weight="bold" text-anchor="end" transform="rotate(-15 266.9 433.7)" fill="#111" stroke="#111" stroke-width="0.3">p52</text>
<line x1="293.69999999999993" y1="421.7" x2="293.69999999999993" y2="425.7" stroke="#111" stroke-width="1.8" stroke-linecap="butt"/>
<text x="302.2" y="433.7" font-size="10.5" font-weight="bold" text-anchor="end" transform="rotate(-15 302.2 433.7)" fill="#111" stroke="#111" stroke-width="0.3">p65</text>
<text x="37.5" y="383" font-size="10.5" font-weight="bold" text-anchor="middle" transform="rotate(-90 37.5 383)" textLength="98" lengthAdjust="spacingAndGlyphs" fill="#222" stroke="#222" stroke-width="0.3">Relative expression</text>
<rect x="307.60" y="314.90" width="14.00" height="7.20" fill="#f3a266" stroke="#39332b" stroke-width="2.1"/>
<text x="324.6" y="322.09999999999997" font-size="10.5" font-weight="bold" fill="#111" stroke="#111" stroke-width="0.3">7721-vector</text>
<rect x="307.60" y="325.70" width="14.00" height="7.20" fill="#f6f0b4" stroke="#39332b" stroke-width="2.1"/>
<text x="324.6" y="332.9" font-size="10.5" font-weight="bold" fill="#111" stroke="#111" stroke-width="0.3">7721-miR503HG</text>
<rect x="307.60" y="336.50" width="14.00" height="7.20" fill="#b4d3a4" stroke="#39332b" stroke-width="2.1"/>
<text x="324.6" y="343.7" font-size="10.5" font-weight="bold" fill="#111" stroke="#111" stroke-width="0.3">Huh7-vector</text>
<rect x="307.60" y="347.30" width="14.00" height="7.20" fill="#f0bccb" stroke="#39332b" stroke-width="2.1"/>
<text x="324.6" y="354.49999999999994" font-size="10.5" font-weight="bold" textLength="84" lengthAdjust="spacingAndGlyphs" fill="#111" stroke="#111" stroke-width="0.3">Huh7-miR503HG</text>
<text x="438.5" y="194.3" font-size="18.5" font-weight="bold" fill="#111" stroke="#111" stroke-width="0.3">C</text>
<rect x="464.90" y="275.90" width="6.45" height="26.80" fill="#f3a682" stroke="#39332b" stroke-width="2.6"/>
<line x1="477.175" y1="271.625" x2="477.175" y2="263.45" stroke="#14110e" stroke-width="2.7" stroke-linecap="butt"/>
<line x1="474.575" y1="264.25" x2="477.675" y2="264.25" stroke="#14110e" stroke-width="1.6" stroke-linecap="butt"/>
<rect x="473.95" y="272.32" width="6.45" height="30.37" fill="#fbf2d2" stroke="#39332b" stroke-width="2.6"/>
<line x1="486.225" y1="282.625" x2="486.225" y2="277.2" stroke="#14110e" stroke-width="2.7" stroke-linecap="butt"/>
<line x1="483.625" y1="278.0" x2="486.725" y2="278.0" stroke="#14110e" stroke-width="1.6" stroke-linecap="butt"/>
<rect x="483.00" y="283.32" width="6.45" height="19.37" fill="#cfe3d6" stroke="#39332b" stroke-width="2.6"/>
<rect x="498.53" y="275.90" width="6.45" height="26.80" fill="#f3a682" stroke="#39332b" stroke-width="2.6"/>
<line x1="510.805" y1="258.15" x2="510.805" y2="252.45" stroke="#14110e" stroke-width="2.7" stroke-linecap="butt"/>
<line x1="508.205" y1="253.25" x2="511.305" y2="253.25" stroke="#14110e" stroke-width="1.6" stroke-linecap="butt"/>
<rect x="507.58" y="258.85" width="6.45" height="43.85" fill="#fbf2d2" stroke="#39332b" stroke-width="2.6"/>
<line x1="519.855" y1="259.8" x2="519.855" y2="254.09999999999997" stroke="#14110e" stroke-width="2.7" stroke-linecap="butt"/>
<line x1="517.255" y1="254.89999999999998" x2="520.355" y2="254.89999999999998" stroke="#14110e" stroke-width="1.6" stroke-linecap="butt"/>
<rect x="516.63" y="260.50" width="6.45" height="42.20" fill="#cfe3d6" stroke="#39332b" stroke-width="2.6"/>
<rect x="532.16" y="275.90" width="6.45" height="26.80" fill="#f3a682" stroke="#39332b" stroke-width="2.6"/>
<line x1="544.435" y1="277.4" x2="544.435" y2="271.97499999999997" stroke="#14110e" stroke-width="2.7" stroke-linecap="butt"/>
<line x1="541.8349999999999" y1="272.775" x2="544.935" y2="272.775" stroke="#14110e" stroke-width="1.6" stroke-linecap="butt"/>
<rect x="541.21" y="278.10" width="6.45" height="24.60" fill="#fbf2d2" stroke="#39332b" stroke-width="2.6"/>
<line x1="553.485" y1="280.7" x2="553.485" y2="275.275" stroke="#14110e" stroke-width="2.7" stroke-linecap="butt"/>
<line x1="550.885" y1="276.075" x2="553.985" y2="276.075" stroke="#14110e" stroke-width="1.6" stroke-linecap="butt"/>
<rect x="550.26" y="281.40" width="6.45" height="21.30" fill="#cfe3d6" stroke="#39332b" stroke-width="2.6"/>
<rect x="565.79" y="275.90" width="6.45" height="26.80" fill="#f3a682" stroke="#39332b" stroke-width="2.6"/>
<line x1="578.0649999999999" y1="278.775" x2="578.0649999999999" y2="266.47499999999997" stroke="#14110e" stroke-width="2.7" stroke-linecap="butt"/>
<line x1="575.4649999999999" y1="267.275" x2="578.5649999999999" y2="267.275" stroke="#14110e" stroke-width="1.6" stroke-linecap="butt"/>
<rect x="574.84" y="279.47" width="6.45" height="23.23" fill="#fbf2d2" stroke="#39332b" stroke-width="2.6"/>
<line x1="587.115" y1="277.125" x2="587.115" y2="271.97499999999997" stroke="#14110e" stroke-width="2.7" stroke-linecap="butt"/>
<line x1="584.515" y1="272.775" x2="587.615" y2="272.775" stroke="#14110e" stroke-width="1.6" stroke-linecap="butt"/>
<rect x="583.89" y="277.82" width="6.45" height="24.87" fill="#cfe3d6" stroke="#39332b" stroke-width="2.6"/>
<rect x="599.42" y="275.90" width="6.45" height="26.80" fill="#f3a682" stroke="#39332b" stroke-width="2.6"/>
<line x1="611.6949999999999" y1="276.025" x2="611.6949999999999" y2="273.075" stroke="#14110e" stroke-width="2.7" stroke-linecap="butt"/>
<line x1="609.0949999999999" y1="273.875" x2="612.1949999999999" y2="273.875" stroke="#14110e" stroke-width="1.6" stroke-linecap="butt"/>
<rect x="608.47" y="276.72" width="6.45" height="25.98" fill="#fbf2d2" stroke="#39332b" stroke-width="2.6"/>
<rect x="617.52" y="277.82" width="6.45" height="24.87" fill="#cfe3d6" stroke="#39332b" stroke-width="2.6"/>
<rect x="633.05" y="275.90" width="6.45" height="26.80" fill="#f3a682" stroke="#39332b" stroke-width="2.6"/>
<line x1="645.3249999999999" y1="248.25" x2="645.3249999999999" y2="240.89999999999998" stroke="#14110e" stroke-width="2.7" stroke-linecap="butt"/>
<line x1="642.7249999999999" y1="241.7" x2="645.8249999999999" y2="241.7" stroke="#14110e" stroke-width="1.6" stroke-linecap="butt"/>
<rect x="642.10" y="248.95" width="6.45" height="53.75" fill="#fbf2d2" stroke="#39332b" stroke-width="2.6"/>
<line x1="654.375" y1="237.52499999999998" x2="654.375" y2="227.7" stroke="#14110e" stroke-width="2.7" stroke-linecap="butt"/>
<line x1="651.775" y1="228.5" x2="654.875" y2="228.5" stroke="#14110e" stroke-width="1.6" stroke-linecap="butt"/>
<rect x="651.15" y="238.22" width="6.45" height="64.48" fill="#cfe3d6" stroke="#39332b" stroke-width="2.6"/>
<rect x="666.68" y="275.90" width="6.45" height="26.80" fill="#f3a682" stroke="#39332b" stroke-width="2.6"/>
<line x1="678.955" y1="244.125" x2="678.955" y2="236.5" stroke="#14110e" stroke-width="2.7" stroke-linecap="butt"/>
<line x1="676.355" y1="237.3" x2="679.455" y2="237.3" stroke="#14110e" stroke-width="1.6" stroke-linecap="butt"/>
<rect x="675.73" y="244.83" width="6.45" height="57.87" fill="#fbf2d2" stroke="#39332b" stroke-width="2.6"/>
<line x1="688.0050000000001" y1="254.02499999999998" x2="688.0050000000001" y2="238.69999999999996" stroke="#14110e" stroke-width="2.7" stroke-linecap="butt"/>
<line x1="685.4050000000001" y1="239.49999999999997" x2="688.5050000000001" y2="239.49999999999997" stroke="#14110e" stroke-width="1.6" stroke-linecap="butt"/>
<rect x="684.78" y="254.72" width="6.45" height="47.98" fill="#cfe3d6" stroke="#39332b" stroke-width="2.6"/>
<line x1="460" y1="219.2" x2="460" y2="303.7" stroke="#111" stroke-width="2.0" stroke-linecap="butt"/>
<line x1="460" y1="302.7" x2="697" y2="302.7" stroke="#111" stroke-width="2.0" stroke-linecap="butt"/>
<line x1="455.5" y1="302.7" x2="460" y2="302.7" stroke="#111" stroke-width="1.8" stroke-linecap="butt"/>
<text x="455" y="306.59999999999997" font-size="11" font-weight="bold" text-anchor="end" fill="#111" stroke="#111" stroke-width="0.3">0</text>
<line x1="455.5" y1="275.2" x2="460" y2="275.2" stroke="#111" stroke-width="1.8" stroke-linecap="butt"/>
<text x="455" y="279.09999999999997" font-size="11" font-weight="bold" text-anchor="end" fill="#111" stroke="#111" stroke-width="0.3">1</text>
<line x1="455.5" y1="247.7" x2="460" y2="247.7" stroke="#111" stroke-width="1.8" stroke-linecap="butt"/>
<text x="455" y="251.6" font-size="11" font-weight="bold" text-anchor="end" fill="#111" stroke="#111" stroke-width="0.3">2</text>
<line x1="455.5" y1="220.2" x2="460" y2="220.2" stroke="#111" stroke-width="1.8" stroke-linecap="butt"/>
<text x="455" y="224.1" font-size="11" font-weight="bold" text-anchor="end" fill="#111" stroke="#111" stroke-width="0.3">3</text>
<line x1="477.175" y1="302.7" x2="477.175" y2="306.7" stroke="#111" stroke-width="1.8" stroke-linecap="butt"/>
<text x="485.68" y="314.7" font-size="10.5" font-weight="bold" text-anchor="end" transform="rotate(-15 485.68 314.7)" fill="#111" stroke="#111" stroke-width="0.3">JAK2</text>
<line x1="510.805" y1="302.7" x2="510.805" y2="306.7" stroke="#111" stroke-width="1.8" stroke-linecap="butt"/>
<text x="519.31" y="314.7" font-size="10.5" font-weight="bold" text-anchor="end" transform="rotate(-15 519.31 314.7)" fill="#111" stroke="#111" stroke-width="0.3">STAT3</text>
<line x1="544.4350000000001" y1="302.7" x2="544.4350000000001" y2="306.7" stroke="#111" stroke-width="1.8" stroke-linecap="butt"/>
<text x="545.94" y="314.7" font-size="10.5" font-weight="bold" text-anchor="end" transform="rotate(-15 545.94 314.7)" fill="#111" stroke="#111" stroke-width="0.3">JNK</text>
<line x1="578.065" y1="302.7" x2="578.065" y2="306.7" stroke="#111" stroke-width="1.8" stroke-linecap="butt"/>
<text x="582.57" y="314.7" font-size="10.5" font-weight="bold" text-anchor="end" transform="rotate(-15 582.57 314.7)" fill="#111" stroke="#111" stroke-width="0.3">ERK1/2</text>
<line x1="611.695" y1="302.7" x2="611.695" y2="306.7" stroke="#111" stroke-width="1.8" stroke-linecap="butt"/>
<text x="624.2" y="314.7" font-size="10.5" font-weight="bold" text-anchor="end" transform="rotate(-15 624.2 314.7)" fill="#111" stroke="#111" stroke-width="0.3">β-catenin</text>
<line x1="645.325" y1="302.7" x2="645.325" y2="306.7" stroke="#111" stroke-width="1.8" stroke-linecap="butt"/>
<text x="657.12" y="314.7" font-size="10.5" font-weight="bold" text-anchor="end" transform="rotate(-15 657.12 314.7)" fill="#111" stroke="#111" stroke-width="0.3">p52</text>
<line x1="678.9550000000002" y1="302.7" x2="678.9550000000002" y2="306.7" stroke="#111" stroke-width="1.8" stroke-linecap="butt"/>
<text x="692.46" y="314.7" font-size="10.5" font-weight="bold" text-anchor="end" transform="rotate(-15 692.46 314.7)" fill="#111" stroke="#111" stroke-width="0.3">p65</text>
<text x="445.6" y="264.5" font-size="10.5" font-weight="bold" text-anchor="middle" transform="rotate(-90 445.6 264.5)" textLength="98" lengthAdjust="spacingAndGlyphs" fill="#222" stroke="#222" stroke-width="0.3">Relative expression</text>
<rect x="683.00" y="196.60" width="14.00" height="7.20" fill="#f3a682" stroke="#39332b" stroke-width="2.1"/>
<text x="700" y="203.79999999999998" font-size="10.5" font-weight="bold" fill="#111" stroke="#111" stroke-width="0.3">siNC</text>
<rect x="683.00" y="207.50" width="14.00" height="7.20" fill="#fbf2d2" stroke="#39332b" stroke-width="2.1"/>
<text x="700" y="214.7" font-size="10.5" font-weight="bold" textLength="80" lengthAdjust="spacingAndGlyphs" fill="#111" stroke="#111" stroke-width="0.3">si-miR503HG-1#</text>
<rect x="683.00" y="218.40" width="14.00" height="7.20" fill="#cfe3d6" stroke="#39332b" stroke-width="2.1"/>
<text x="700" y="225.6" font-size="10.5" font-weight="bold" textLength="80" lengthAdjust="spacingAndGlyphs" fill="#111" stroke="#111" stroke-width="0.3">si-miR503HG-2#</text>
<text x="578.8" y="231.7" font-size="8.8" font-weight="bold" text-anchor="middle" textLength="46.5" lengthAdjust="spacingAndGlyphs" fill="#111" stroke="#111" stroke-width="0.3">SMMC7721</text>
<rect x="465.60" y="410.57" width="6.75" height="7.63" fill="#f3a682" stroke="#39332b" stroke-width="2.6"/>
<line x1="478.32500000000005" y1="409.037" x2="478.32500000000005" y2="406.904" stroke="#14110e" stroke-width="2.7" stroke-linecap="butt"/>
<line x1="475.725" y1="407.704" x2="478.82500000000005" y2="407.704" stroke="#14110e" stroke-width="1.6" stroke-linecap="butt"/>
<rect x="474.95" y="409.74" width="6.75" height="8.46" fill="#fbf2d2" stroke="#39332b" stroke-width="2.6"/>
<line x1="487.675" y1="408.6205" x2="487.675" y2="406.48749999999995" stroke="#14110e" stroke-width="2.7" stroke-linecap="butt"/>
<line x1="485.075" y1="407.28749999999997" x2="488.175" y2="407.28749999999997" stroke="#14110e" stroke-width="1.6" stroke-linecap="butt"/>
<rect x="484.30" y="409.32" width="6.75" height="8.88" fill="#cfe3d6" stroke="#39332b" stroke-width="2.6"/>
<rect x="500.90" y="410.57" width="6.75" height="7.63" fill="#f3a682" stroke="#39332b" stroke-width="2.6"/>
<line x1="513.625" y1="405.2885" x2="513.625" y2="403.15549999999996" stroke="#14110e" stroke-width="2.7" stroke-linecap="butt"/>
<line x1="511.025" y1="403.9555" x2="514.125" y2="403.9555" stroke="#14110e" stroke-width="1.6" stroke-linecap="butt"/>
<rect x="510.25" y="405.99" width="6.75" height="12.21" fill="#fbf2d2" stroke="#39332b" stroke-width="2.6"/>
<line x1="522.975" y1="404.039" x2="522.975" y2="401.906" stroke="#14110e" stroke-width="2.7" stroke-linecap="butt"/>
<line x1="520.375" y1="402.706" x2="523.475" y2="402.706" stroke="#14110e" stroke-width="1.6" stroke-linecap="butt"/>
<rect x="519.60" y="404.74" width="6.75" height="13.46" fill="#cfe3d6" stroke="#39332b" stroke-width="2.6"/>
<rect x="536.20" y="410.57" width="6.75" height="7.63" fill="#f3a682" stroke="#39332b" stroke-width="2.6"/>
<line x1="548.925" y1="411.9525" x2="548.925" y2="409.8195" stroke="#14110e" stroke-width="2.7" stroke-linecap="butt"/>
<line x1="546.3249999999999" y1="410.6195" x2="549.425" y2="410.6195" stroke="#14110e" stroke-width="1.6" stroke-linecap="butt"/>
<rect x="545.55" y="412.65" width="6.75" height="5.55" fill="#fbf2d2" stroke="#39332b" stroke-width="2.6"/>
<line x1="558.275" y1="413.6185" x2="558.275" y2="411.4855" stroke="#14110e" stroke-width="2.7" stroke-linecap="butt"/>
<line x1="555.675" y1="412.2855" x2="558.775" y2="412.2855" stroke="#14110e" stroke-width="1.6" stroke-linecap="butt"/>
<rect x="554.90" y="414.32" width="6.75" height="3.88" fill="#cfe3d6" stroke="#39332b" stroke-width="2.6"/>
<rect x="571.50" y="410.57" width="6.75" height="7.63" fill="#f3a682" stroke="#39332b" stroke-width="2.6"/>
<line x1="584.225" y1="410.703" x2="584.225" y2="408.57" stroke="#14110e" stroke-width="2.7" stroke-linecap="butt"/>
<line x1="581.625" y1="409.37" x2="584.725" y2="409.37" stroke="#14110e" stroke-width="1.6" stroke-linecap="butt"/>
<rect x="580.85" y="411.40" width="6.75" height="6.80" fill="#fbf2d2" stroke="#39332b" stroke-width="2.6"/>
<line x1="593.575" y1="407.78749999999997" x2="593.575" y2="405.8211" stroke="#14110e" stroke-width="2.7" stroke-linecap="butt"/>
<line x1="590.975" y1="406.6211" x2="594.075" y2="406.6211" stroke="#14110e" stroke-width="1.6" stroke-linecap="butt"/>
<rect x="590.20" y="408.49" width="6.75" height="9.71" fill="#cfe3d6" stroke="#39332b" stroke-width="2.6"/>
<rect x="606.80" y="410.57" width="6.75" height="7.63" fill="#f3a682" stroke="#39332b" stroke-width="2.6"/>
<line x1="619.525" y1="411.9525" x2="619.525" y2="409.98609999999996" stroke="#14110e" stroke-width="2.7" stroke-linecap="butt"/>
<line x1="616.925" y1="410.7861" x2="620.025" y2="410.7861" stroke="#14110e" stroke-width="1.6" stroke-linecap="butt"/>
<rect x="616.15" y="412.65" width="6.75" height="5.55" fill="#fbf2d2" stroke="#39332b" stroke-width="2.6"/>
<line x1="628.875" y1="410.703" x2="628.875" y2="408.57" stroke="#14110e" stroke-width="2.7" stroke-linecap="butt"/>
<line x1="626.275" y1="409.37" x2="629.375" y2="409.37" stroke="#14110e" stroke-width="1.6" stroke-linecap="butt"/>
<rect x="625.50" y="411.40" width="6.75" height="6.80" fill="#cfe3d6" stroke="#39332b" stroke-width="2.6"/>
<rect x="642.10" y="410.57" width="6.75" height="7.63" fill="#f3a682" stroke="#39332b" stroke-width="2.6"/>
<line x1="654.8249999999999" y1="354.3089" x2="654.8249999999999" y2="343.3461" stroke="#14110e" stroke-width="2.7" stroke-linecap="butt"/>
<line x1="652.2249999999999" y1="344.1461" x2="655.3249999999999" y2="344.1461" stroke="#14110e" stroke-width="1.6" stroke-linecap="butt"/>
<rect x="651.45" y="355.01" width="6.75" height="63.19" fill="#fbf2d2" stroke="#39332b" stroke-width="2.6"/>
<line x1="664.175" y1="367.63689999999997" x2="664.175" y2="349.8435" stroke="#14110e" stroke-width="2.7" stroke-linecap="butt"/>
<line x1="661.5749999999999" y1="350.6435" x2="664.675" y2="350.6435" stroke="#14110e" stroke-width="1.6" stroke-linecap="butt"/>
<rect x="660.80" y="368.34" width="6.75" height="49.86" fill="#cfe3d6" stroke="#39332b" stroke-width="2.6"/>
<rect x="677.40" y="410.57" width="6.75" height="7.63" fill="#f3a682" stroke="#39332b" stroke-width="2.6"/>
<line x1="690.125" y1="400.7903" x2="690.125" y2="397.2412" stroke="#14110e" stroke-width="2.7" stroke-linecap="butt"/>
<line x1="687.525" y1="398.0412" x2="690.625" y2="398.0412" stroke="#14110e" stroke-width="1.6" stroke-linecap="butt"/>
<rect x="686.75" y="401.49" width="6.75" height="16.71" fill="#fbf2d2" stroke="#39332b" stroke-width="2.6"/>
<line x1="699.475" y1="396.542" x2="699.475" y2="394.8255" stroke="#14110e" stroke-width="2.7" stroke-linecap="butt"/>
<line x1="696.875" y1="395.6255" x2="699.975" y2="395.6255" stroke="#14110e" stroke-width="1.6" stroke-linecap="butt"/>
<rect x="696.10" y="397.24" width="6.75" height="20.96" fill="#cfe3d6" stroke="#39332b" stroke-width="2.6"/>
<line x1="461.2" y1="333.9" x2="461.2" y2="419.2" stroke="#111" stroke-width="2.0" stroke-linecap="butt"/>
<line x1="461.2" y1="418.2" x2="708.8" y2="418.2" stroke="#111" stroke-width="2.0" stroke-linecap="butt"/>
<line x1="456.7" y1="418.2" x2="461.2" y2="418.2" stroke="#111" stroke-width="1.8" stroke-linecap="butt"/>
<text x="456.2" y="422.09999999999997" font-size="11" font-weight="bold" text-anchor="end" fill="#111" stroke="#111" stroke-width="0.3">0</text>
<line x1="456.7" y1="401.53999999999996" x2="461.2" y2="401.53999999999996" stroke="#111" stroke-width="1.8" stroke-linecap="butt"/>
<text x="456.2" y="405.43999999999994" font-size="11" font-weight="bold" text-anchor="end" fill="#111" stroke="#111" stroke-width="0.3">2</text>
<line x1="456.7" y1="384.88" x2="461.2" y2="384.88" stroke="#111" stroke-width="1.8" stroke-linecap="butt"/>
<text x="456.2" y="388.78" font-size="11" font-weight="bold" text-anchor="end" fill="#111" stroke="#111" stroke-width="0.3">4</text>
<line x1="456.7" y1="368.21999999999997" x2="461.2" y2="368.21999999999997" stroke="#111" stroke-width="1.8" stroke-linecap="butt"/>
<text x="456.2" y="372.11999999999995" font-size="11" font-weight="bold" text-anchor="end" fill="#111" stroke="#111" stroke-width="0.3">6</text>
<line x1="456.7" y1="351.56" x2="461.2" y2="351.56" stroke="#111" stroke-width="1.8" stroke-linecap="butt"/>
<text x="456.2" y="355.46" font-size="11" font-weight="bold" text-anchor="end" fill="#111" stroke="#111" stroke-width="0.3">8</text>
<line x1="456.7" y1="334.9" x2="461.2" y2="334.9" stroke="#111" stroke-width="1.8" stroke-linecap="butt"/>
<text x="456.2" y="338.79999999999995" font-size="11" font-weight="bold" text-anchor="end" fill="#111" stroke="#111" stroke-width="0.3">10</text>
<line x1="478.325" y1="418.2" x2="478.325" y2="422.2" stroke="#111" stroke-width="1.8" stroke-linecap="butt"/>
<text x="482.82" y="430.2" font-size="10.5" font-weight="bold" text-anchor="end" transform="rotate(-15 482.82 430.2)" fill="#111" stroke="#111" stroke-width="0.3">JAK2</text>
<line x1="513.625" y1="418.2" x2="513.625" y2="422.2" stroke="#111" stroke-width="1.8" stroke-linecap="butt"/>
<text x="518.12" y="430.2" font-size="10.5" font-weight="bold" text-anchor="end" transform="rotate(-15 518.12 430.2)" fill="#111" stroke="#111" stroke-width="0.3">STAT3</text>
<line x1="548.925" y1="418.2" x2="548.925" y2="422.2" stroke="#111" stroke-width="1.8" stroke-linecap="butt"/>
<text x="549.42" y="430.2" font-size="10.5" font-weight="bold" text-anchor="end" transform="rotate(-15 549.42 430.2)" fill="#111" stroke="#111" stroke-width="0.3">JNK</text>
<line x1="584.225" y1="418.2" x2="584.225" y2="422.2" stroke="#111" stroke-width="1.8" stroke-linecap="butt"/>
<text x="588.73" y="430.2" font-size="10.5" font-weight="bold" text-anchor="end" transform="rotate(-15 588.73 430.2)" fill="#111" stroke="#111" stroke-width="0.3">ERK1/2</text>
<line x1="619.525" y1="418.2" x2="619.525" y2="422.2" stroke="#111" stroke-width="1.8" stroke-linecap="butt"/>
<text x="629.02" y="430.2" font-size="10.5" font-weight="bold" text-anchor="end" transform="rotate(-15 629.02 430.2)" fill="#111" stroke="#111" stroke-width="0.3">β-catenin</text>
<line x1="654.8249999999999" y1="418.2" x2="654.8249999999999" y2="422.2" stroke="#111" stroke-width="1.8" stroke-linecap="butt"/>
<text x="659.32" y="430.2" font-size="10.5" font-weight="bold" text-anchor="end" transform="rotate(-15 659.32 430.2)" fill="#111" stroke="#111" stroke-width="0.3">p52</text>
<line x1="690.125" y1="418.2" x2="690.125" y2="422.2" stroke="#111" stroke-width="1.8" stroke-linecap="butt"/>
<text x="694.62" y="430.2" font-size="10.5" font-weight="bold" text-anchor="end" transform="rotate(-15 694.62 430.2)" fill="#111" stroke="#111" stroke-width="0.3">p65</text>
<text x="443.0" y="379.6" font-size="10.5" font-weight="bold" text-anchor="middle" transform="rotate(-90 443.0 379.6)" textLength="98" lengthAdjust="spacingAndGlyphs" fill="#222" stroke="#222" stroke-width="0.3">Relative expression</text>
<rect x="682.50" y="329.20" width="14.00" height="7.20" fill="#f3a682" stroke="#39332b" stroke-width="2.1"/>
<text x="699.5" y="336.4" font-size="10.5" font-weight="bold" fill="#111" stroke="#111" stroke-width="0.3">siNC</text>
<rect x="682.50" y="340.90" width="14.00" height="7.20" fill="#fbf2d2" stroke="#39332b" stroke-width="2.1"/>
<text x="699.5" y="348.09999999999997" font-size="10.5" font-weight="bold" textLength="80" lengthAdjust="spacingAndGlyphs" fill="#111" stroke="#111" stroke-width="0.3">si-miR503HG-1#</text>
<rect x="682.50" y="352.60" width="14.00" height="7.20" fill="#cfe3d6" stroke="#39332b" stroke-width="2.1"/>
<text x="699.5" y="359.79999999999995" font-size="10.5" font-weight="bold" textLength="80" lengthAdjust="spacingAndGlyphs" fill="#111" stroke="#111" stroke-width="0.3">si-miR503HG-2#</text>
<text x="576.5" y="357.2" font-size="8.8" font-weight="bold" text-anchor="middle" textLength="21.5" lengthAdjust="spacingAndGlyphs" fill="#111" stroke="#111" stroke-width="0.3">Huh7</text>
<text x="12.5" y="485.8" font-size="18.5" font-weight="bold" fill="#111" stroke="#111" stroke-width="0.3">D</text>
<clipPath id="c1"><rect x="54.60" y="503.30" width="75.40" height="18.30"/></clipPath>
<g clip-path="url(#c1)">
<rect x="54.60" y="503.30" width="75.40" height="18.30" fill="#d6d6d6"/>
<rect x="58.23" y="509.58" width="27.50" height="3.70" rx="4.83" ry="1.85" fill="#1e1e1e" filter="url(#bl1)"/>
<rect x="94.40" y="511.18" width="29.24" height="3.52" rx="4.67" ry="1.76" fill="#1e1e1e" filter="url(#bl1)"/>
</g>
<rect x="54.60" y="503.30" width="75.40" height="18.30" fill="none" stroke="#151515" stroke-width="1.7"/>
<clipPath id="c2"><rect x="138.60" y="503.30" width="74.90" height="18.30"/></clipPath>
<g clip-path="url(#c2)">
<rect x="138.60" y="503.30" width="74.90" height="18.30" fill="#d8d8d8"/>
<rect x="144.20" y="510.75" width="24.90" height="3.52" rx="4.67" ry="1.76" fill="#1e1e1e" filter="url(#bl1)"/>
<rect x="179.94" y="510.88" width="27.72" height="3.70" rx="4.83" ry="1.85" fill="#1e1e1e" filter="url(#bl1)"/>
</g>
<rect x="138.60" y="503.30" width="74.90" height="18.30" fill="none" stroke="#151515" stroke-width="1.7"/>
<clipPath id="c3"><rect x="54.60" y="525.90" width="75.40" height="18.40"/></clipPath>
<g clip-path="url(#c3)">
<rect x="54.60" y="525.90" width="75.40" height="18.40" fill="#c4c4c4"/>
<rect x="60.83" y="538.46" width="24.90" height="5.70" rx="6.63" ry="2.85" fill="#6a6a6a" filter="url(#bl2)"/>
<rect x="96.56" y="538.46" width="25.99" height="5.70" rx="6.63" ry="2.85" fill="#6a6a6a" filter="url(#bl2)"/>
<rect x="60.40" y="534.76" width="25.77" height="7.04" rx="7.84" ry="3.52" fill="#262626" filter="url(#bl1)"/>
<rect x="96.13" y="534.54" width="26.85" height="7.48" rx="8.23" ry="3.74" fill="#262626" filter="url(#bl1)"/>
</g>
<rect x="54.60" y="525.90" width="75.40" height="18.40" fill="none" stroke="#151515" stroke-width="1.7"/>
<clipPath id="c4"><rect x="138.60" y="525.90" width="74.90" height="18.40"/></clipPath>
<g clip-path="url(#c4)">
<rect x="138.60" y="525.90" width="74.90" height="18.40" fill="#a9a9a9"/>
<rect x="144.20" y="534.17" width="24.90" height="4.75" rx="5.78" ry="2.38" fill="#8e8e8e" filter="url(#bl2)"/>
<rect x="179.94" y="534.65" width="21.66" height="3.80" rx="4.92" ry="1.90" fill="#999" filter="url(#bl2)"/>
</g>
<rect x="138.60" y="525.90" width="74.90" height="18.40" fill="none" stroke="#151515" stroke-width="1.7"/>
<clipPath id="c5"><rect x="54.60" y="548.60" width="75.40" height="18.40"/></clipPath>
<g clip-path="url(#c5)">
<rect x="54.60" y="548.60" width="75.40" height="18.40" fill="#ececec"/>
<rect x="61.91" y="556.88" width="21.66" height="3.52" rx="4.67" ry="1.76" fill="#1e1e1e" filter="url(#bl1)"/>
<rect x="99.38" y="556.00" width="23.17" height="4.40" rx="5.46" ry="2.20" fill="#1e1e1e" filter="url(#bl1)"/>
</g>
<rect x="54.60" y="548.60" width="75.40" height="18.40" fill="none" stroke="#151515" stroke-width="1.7"/>
<clipPath id="c6"><rect x="138.60" y="548.60" width="74.90" height="18.40"/></clipPath>
<g clip-path="url(#c6)">
<rect x="138.60" y="548.60" width="74.90" height="18.40" fill="#e6e6e6"/>
<rect x="144.20" y="555.35" width="24.90" height="4.40" rx="5.46" ry="2.20" fill="#1e1e1e" filter="url(#bl1)"/>
<rect x="179.94" y="555.78" width="27.07" height="4.84" rx="5.86" ry="2.42" fill="#1e1e1e" filter="url(#bl1)"/>
</g>
<rect x="138.60" y="548.60" width="74.90" height="18.40" fill="none" stroke="#151515" stroke-width="1.7"/>
<clipPath id="c7"><rect x="54.60" y="571.10" width="75.40" height="18.90"/></clipPath>
<g clip-path="url(#c7)">
<rect x="54.60" y="571.10" width="75.40" height="18.90" fill="#d2d2d2"/>
<rect x="58.66" y="579.18" width="25.99" height="4.40" rx="5.46" ry="2.20" fill="#1e1e1e" filter="url(#bl1)"/>
<rect x="98.08" y="577.13" width="25.55" height="5.46" rx="6.41" ry="2.73" fill="#1e1e1e" filter="url(#bl1)"/>
</g>
<rect x="54.60" y="571.10" width="75.40" height="18.90" fill="none" stroke="#151515" stroke-width="1.7"/>
<clipPath id="c8"><rect x="138.60" y="571.10" width="74.90" height="18.90"/></clipPath>
<g clip-path="url(#c8)">
<rect x="138.60" y="571.10" width="74.90" height="18.90" fill="#dadada"/>
<rect x="144.20" y="578.09" width="25.99" height="5.28" rx="6.25" ry="2.64" fill="#1e1e1e" filter="url(#bl1)"/>
<rect x="181.02" y="578.52" width="27.07" height="5.28" rx="6.25" ry="2.64" fill="#1e1e1e" filter="url(#bl1)"/>
</g>
<rect x="138.60" y="571.10" width="74.90" height="18.90" fill="none" stroke="#151515" stroke-width="1.7"/>
<clipPath id="c9"><rect x="54.60" y="594.10" width="75.40" height="18.70"/></clipPath>
<g clip-path="url(#c9)">
<rect x="54.60" y="594.10" width="75.40" height="18.70" fill="#c6c6c6"/>
<rect x="58.66" y="602.52" width="27.07" height="5.28" rx="6.25" ry="2.64" fill="#1e1e1e" filter="url(#bl1)"/>
<rect x="96.56" y="600.34" width="29.24" height="7.48" rx="8.23" ry="3.74" fill="#1e1e1e" filter="url(#bl1)"/>
</g>
<rect x="54.60" y="594.10" width="75.40" height="18.70" fill="none" stroke="#151515" stroke-width="1.7"/>
<clipPath id="c10"><rect x="138.60" y="594.10" width="74.90" height="18.70"/></clipPath>
<g clip-path="url(#c10)">
<rect x="138.60" y="594.10" width="74.90" height="18.70" fill="#dedede"/>
<rect x="143.56" y="602.74" width="25.55" height="4.84" rx="5.86" ry="2.42" fill="#1e1e1e" filter="url(#bl1)"/>
<rect x="178.85" y="601.00" width="28.15" height="5.28" rx="6.25" ry="2.64" fill="#1e1e1e" filter="url(#bl1)"/>
</g>
<rect x="138.60" y="594.10" width="74.90" height="18.70" fill="none" stroke="#151515" stroke-width="1.7"/>
<clipPath id="c11"><rect x="54.60" y="616.80" width="75.40" height="18.80"/></clipPath>
<g clip-path="url(#c11)">
<rect x="54.60" y="616.80" width="75.40" height="18.80" fill="#e0e0e0"/>
<rect x="60.40" y="623.09" width="23.17" height="5.28" rx="6.25" ry="2.64" fill="#4a4a4a" filter="url(#bl1)"/>
<rect x="98.73" y="622.64" width="25.99" height="7.48" rx="8.23" ry="3.74" fill="#1e1e1e" filter="url(#bl1)"/>
</g>
<rect x="54.60" y="616.80" width="75.40" height="18.80" fill="none" stroke="#151515" stroke-width="1.7"/>
<clipPath id="c12"><rect x="138.60" y="616.80" width="74.90" height="18.80"/></clipPath>
<g clip-path="url(#c12)">
<rect x="138.60" y="616.80" width="74.90" height="18.80" fill="#e2e2e2"/>
<rect x="142.69" y="624.93" width="25.99" height="3.34" rx="4.51" ry="1.67" fill="#4a4a4a" filter="url(#bl1)" transform="rotate(-8.53 155.68 626.60)"/>
<rect x="179.94" y="621.78" width="28.15" height="6.60" rx="7.44" ry="3.30" fill="#1e1e1e" filter="url(#bl1)"/>
</g>
<rect x="138.60" y="616.80" width="74.90" height="18.80" fill="none" stroke="#151515" stroke-width="1.7"/>
<clipPath id="c13"><rect x="54.60" y="639.50" width="75.40" height="18.80"/></clipPath>
<g clip-path="url(#c13)">
<rect x="54.60" y="639.50" width="75.40" height="18.80" fill="#dadada"/>
<rect x="59.75" y="647.79" width="28.15" height="4.40" rx="5.46" ry="2.20" fill="#1e1e1e" filter="url(#bl1)"/>
<rect x="98.73" y="646.69" width="25.99" height="5.72" rx="6.65" ry="2.86" fill="#1e1e1e" filter="url(#bl1)"/>
</g>
<rect x="54.60" y="639.50" width="75.40" height="18.80" fill="none" stroke="#151515" stroke-width="1.7"/>
<clipPath id="c14"><rect x="138.60" y="639.50" width="74.90" height="18.80"/></clipPath>
<g clip-path="url(#c14)">
<rect x="138.60" y="639.50" width="74.90" height="18.80" fill="#c2c2c2"/>
<rect x="142.69" y="646.80" width="25.99" height="3.34" rx="4.51" ry="1.67" fill="#333" filter="url(#bl1)"/>
<rect x="179.94" y="646.48" width="28.15" height="5.28" rx="6.25" ry="2.64" fill="#1e1e1e" filter="url(#bl1)"/>
</g>
<rect x="138.60" y="639.50" width="74.90" height="18.80" fill="none" stroke="#151515" stroke-width="1.7"/>
<clipPath id="c15"><rect x="54.60" y="662.30" width="75.40" height="18.70"/></clipPath>
<g clip-path="url(#c15)">
<rect x="54.60" y="662.30" width="75.40" height="18.70" fill="#cfcfcf"/>
<rect x="59.75" y="667.17" width="25.99" height="8.07" rx="8.77" ry="4.04" fill="#3a3a3a" filter="url(#bl2)"/>
<rect x="98.08" y="667.17" width="25.55" height="8.07" rx="8.77" ry="4.04" fill="#3a3a3a" filter="url(#bl2)"/>
</g>
<rect x="54.60" y="662.30" width="75.40" height="18.70" fill="none" stroke="#151515" stroke-width="1.7"/>
<clipPath id="c16"><rect x="138.60" y="662.30" width="74.90" height="18.70"/></clipPath>
<g clip-path="url(#c16)">
<rect x="138.60" y="662.30" width="74.90" height="18.70" fill="#c8c8c8"/>
<rect x="142.04" y="665.34" width="28.15" height="10.45" rx="10.90" ry="5.22" fill="#1e1e1e" filter="url(#bl2)"/>
<rect x="179.94" y="666.46" width="29.24" height="9.50" rx="10.05" ry="4.75" fill="#222" filter="url(#bl2)"/>
</g>
<rect x="138.60" y="662.30" width="74.90" height="18.70" fill="none" stroke="#151515" stroke-width="1.7"/>
<text x="48.3" y="516.25" font-size="10.5" font-weight="bold" text-anchor="end" fill="#111" stroke="#111" stroke-width="0.3">JAK2</text>
<text x="48.3" y="538.9" font-size="10.5" font-weight="bold" text-anchor="end" fill="#111" stroke="#111" stroke-width="0.3">STAT3</text>
<text x="48.3" y="561.6" font-size="10.5" font-weight="bold" text-anchor="end" fill="#111" stroke="#111" stroke-width="0.3">JNK</text>
<text x="48.3" y="584.35" font-size="10.5" font-weight="bold" text-anchor="end" fill="#111" stroke="#111" stroke-width="0.3">ERK1/2</text>
<text x="48.3" y="607.25" font-size="10.5" font-weight="bold" text-anchor="end" fill="#111" stroke="#111" stroke-width="0.3">β-catenin</text>
<text x="48.3" y="630.0" font-size="10.5" font-weight="bold" text-anchor="end" fill="#111" stroke="#111" stroke-width="0.3">p52</text>
<text x="48.3" y="652.7" font-size="10.5" font-weight="bold" text-anchor="end" fill="#111" stroke="#111" stroke-width="0.3">p65</text>
<text x="48.3" y="675.45" font-size="10.5" font-weight="bold" text-anchor="end" fill="#111" stroke="#111" stroke-width="0.3">β-actin</text>
<text x="216.8" y="516.25" font-size="10.5" font-weight="bold" fill="#111" stroke="#111" stroke-width="0.3">125</text>
<text x="216.8" y="538.9" font-size="10.5" font-weight="bold" fill="#111" stroke="#111" stroke-width="0.3">86</text>
<text x="216.8" y="561.6" font-size="10.5" font-weight="bold" fill="#111" stroke="#111" stroke-width="0.3">48</text>
<text x="216.8" y="584.35" font-size="10.5" font-weight="bold" fill="#111" stroke="#111" stroke-width="0.3">40</text>
<text x="216.8" y="607.25" font-size="10.5" font-weight="bold" fill="#111" stroke="#111" stroke-width="0.3">92</text>
<text x="216.8" y="630.0" font-size="10.5" font-weight="bold" fill="#111" stroke="#111" stroke-width="0.3">52</text>
<text x="216.8" y="652.7" font-size="10.5" font-weight="bold" fill="#111" stroke="#111" stroke-width="0.3">65</text>
<text x="216.8" y="675.45" font-size="10.5" font-weight="bold" fill="#111" stroke="#111" stroke-width="0.3">43</text>
<text x="70.2" y="499.5" font-size="11.3" font-weight="bold" transform="rotate(-12.8 70.2 499.5)" textLength="27.3" lengthAdjust="spacingAndGlyphs" fill="#111" stroke="#111" stroke-width="0.3">si-NC</text>
<text x="100" y="497.6" font-size="11.3" font-weight="bold" transform="rotate(-12.8 100 497.6)" textLength="78.5" lengthAdjust="spacingAndGlyphs" fill="#111" stroke="#111" stroke-width="0.3">si-miR503HG-1#</text>
<text x="156.7" y="498.4" font-size="11.3" font-weight="bold" transform="rotate(-12.8 156.7 498.4)" textLength="27.3" lengthAdjust="spacingAndGlyphs" fill="#111" stroke="#111" stroke-width="0.3">si-NC</text>
<text x="187.8" y="497.2" font-size="11.3" font-weight="bold" transform="rotate(-12.8 187.8 497.2)" textLength="78.5" lengthAdjust="spacingAndGlyphs" fill="#111" stroke="#111" stroke-width="0.3">si-miR503HG-1#</text>
<text x="216.9" y="499.7" font-size="10" font-weight="bold" fill="#111" stroke="#111" stroke-width="0.3">kDa</text>
<text x="98.2" y="692.8" font-size="10" font-weight="bold" text-anchor="middle" textLength="52.7" lengthAdjust="spacingAndGlyphs" fill="#111" stroke="#111" stroke-width="0.3">SMMC7721</text>
<text x="177.8" y="692.8" font-size="10" font-weight="bold" text-anchor="middle" textLength="25.5" lengthAdjust="spacingAndGlyphs" fill="#111" stroke="#111" stroke-width="0.3">Huh7</text>
<text x="281.5" y="487.1" font-size="18.5" font-weight="bold" fill="#111" stroke="#111" stroke-width="0.3">E</text>
<clipPath id="c17"><rect x="326.50" y="502.30" width="75.40" height="19.10"/></clipPath>
<g clip-path="url(#c17)">
<rect x="326.50" y="502.30" width="75.40" height="19.10" fill="#bdbdbd"/>
<rect x="331.91" y="510.78" width="27.07" height="4.75" rx="5.78" ry="2.38" fill="#808080" filter="url(#bl2)"/>
<rect x="370.24" y="510.78" width="24.47" height="4.75" rx="5.78" ry="2.38" fill="#808080" filter="url(#bl2)"/>
<rect x="331.91" y="509.63" width="27.07" height="3.17" rx="4.35" ry="1.58" fill="#262626" filter="url(#bl1)"/>
<rect x="331.91" y="513.61" width="27.07" height="2.99" rx="4.19" ry="1.50" fill="#333" filter="url(#bl1)"/>
<rect x="370.24" y="509.63" width="24.47" height="3.17" rx="4.35" ry="1.58" fill="#2a2a2a" filter="url(#bl1)"/>
<rect x="370.24" y="513.61" width="24.47" height="2.99" rx="4.19" ry="1.50" fill="#3a3a3a" filter="url(#bl1)"/>
</g>
<rect x="326.50" y="502.30" width="75.40" height="19.10" fill="none" stroke="#151515" stroke-width="1.7"/>
<clipPath id="c18"><rect x="411.40" y="502.30" width="74.90" height="19.10"/></clipPath>
<g clip-path="url(#c18)">
<rect x="411.40" y="502.30" width="74.90" height="19.10" fill="#cbcbcb"/>
<rect x="454.27" y="509.92" width="25.99" height="4.75" rx="5.78" ry="2.38" fill="#707070" filter="url(#bl2)"/>
<rect x="417.02" y="507.41" width="24.26" height="3.70" rx="4.83" ry="1.85" fill="#222" filter="url(#bl1)" transform="rotate(4.09 429.15 509.26)"/>
<rect x="417.02" y="511.05" width="24.26" height="3.34" rx="4.51" ry="1.67" fill="#333" filter="url(#bl1)" transform="rotate(4.09 429.15 512.73)"/>
<rect x="454.27" y="507.71" width="25.99" height="4.84" rx="5.86" ry="2.42" fill="#222" filter="url(#bl1)"/>
<rect x="454.27" y="512.26" width="25.99" height="4.84" rx="5.86" ry="2.42" fill="#2a2a2a" filter="url(#bl1)"/>
</g>
<rect x="411.40" y="502.30" width="74.90" height="19.10" fill="none" stroke="#151515" stroke-width="1.7"/>
<clipPath id="c19"><rect x="326.50" y="524.40" width="75.40" height="19.50"/></clipPath>
<g clip-path="url(#c19)">
<rect x="326.50" y="524.40" width="75.40" height="19.50" fill="#e2e2e2"/>
<rect x="332.56" y="531.74" width="27.50" height="5.28" rx="6.25" ry="2.64" fill="#1e1e1e" filter="url(#bl1)"/>
<rect x="369.38" y="530.74" width="25.34" height="5.98" rx="6.89" ry="2.99" fill="#1e1e1e" filter="url(#bl1)"/>
</g>
<rect x="326.50" y="524.40" width="75.40" height="19.50" fill="none" stroke="#151515" stroke-width="1.7"/>
<clipPath id="c20"><rect x="411.40" y="524.40" width="74.90" height="19.50"/></clipPath>
<g clip-path="url(#c20)">
<rect x="411.40" y="524.40" width="74.90" height="19.50" fill="#d2d2d2"/>
<rect x="416.37" y="530.57" width="27.07" height="5.46" rx="6.41" ry="2.73" fill="#1e1e1e" filter="url(#bl1)"/>
<rect x="452.54" y="531.27" width="28.15" height="4.93" rx="5.94" ry="2.46" fill="#1e1e1e" filter="url(#bl1)"/>
</g>
<rect x="411.40" y="524.40" width="74.90" height="19.50" fill="none" stroke="#151515" stroke-width="1.7"/>
<clipPath id="c21"><rect x="326.50" y="546.70" width="75.40" height="19.10"/></clipPath>
<g clip-path="url(#c21)">
<rect x="326.50" y="546.70" width="75.40" height="19.10" fill="#d2d2d2"/>
<rect x="330.40" y="554.60" width="29.67" height="7.22" rx="7.99" ry="3.61" fill="#1e1e1e" filter="url(#bl1)"/>
<rect x="368.73" y="555.03" width="27.07" height="7.22" rx="7.99" ry="3.61" fill="#1e1e1e" filter="url(#bl1)"/>
</g>
<rect x="326.50" y="546.70" width="75.40" height="19.10" fill="none" stroke="#151515" stroke-width="1.7"/>
<clipPath id="c22"><rect x="411.40" y="546.70" width="74.90" height="19.10"/></clipPath>
<g clip-path="url(#c22)">
<rect x="411.40" y="546.70" width="74.90" height="19.10" fill="#d6d6d6"/>
<rect x="416.37" y="553.30" width="29.24" height="7.22" rx="7.99" ry="3.61" fill="#1e1e1e" filter="url(#bl1)"/>
<rect x="456.87" y="553.39" width="25.55" height="6.16" rx="7.04" ry="3.08" fill="#222" filter="url(#bl1)"/>
</g>
<rect x="411.40" y="546.70" width="74.90" height="19.10" fill="none" stroke="#151515" stroke-width="1.7"/>
<clipPath id="c23"><rect x="326.50" y="568.40" width="75.40" height="18.80"/></clipPath>
<g clip-path="url(#c23)">
<rect x="326.50" y="568.40" width="75.40" height="18.80" fill="#cacaca"/>
<rect x="332.99" y="575.50" width="25.99" height="4.40" rx="5.46" ry="2.20" fill="#1e1e1e" filter="url(#bl1)"/>
<rect x="370.24" y="576.57" width="25.55" height="5.28" rx="6.25" ry="2.64" fill="#1e1e1e" filter="url(#bl1)"/>
</g>
<rect x="326.50" y="568.40" width="75.40" height="18.80" fill="none" stroke="#151515" stroke-width="1.7"/>
<clipPath id="c24"><rect x="411.40" y="568.40" width="74.90" height="18.80"/></clipPath>
<g clip-path="url(#c24)">
<rect x="411.40" y="568.40" width="74.90" height="18.80" fill="#c6c6c6"/>
<rect x="416.37" y="575.49" width="24.90" height="5.28" rx="6.25" ry="2.64" fill="#4a4a4a" filter="url(#bl1)"/>
<rect x="454.70" y="576.80" width="25.55" height="3.96" rx="5.06" ry="1.98" fill="#505050" filter="url(#bl1)"/>
</g>
<rect x="411.40" y="568.40" width="74.90" height="18.80" fill="none" stroke="#151515" stroke-width="1.7"/>
<clipPath id="c25"><rect x="326.50" y="590.30" width="75.40" height="19.10"/></clipPath>
<g clip-path="url(#c25)">
<rect x="326.50" y="590.30" width="75.40" height="19.10" fill="#c4c4c4"/>
<rect x="331.91" y="598.53" width="27.07" height="4.40" rx="5.46" ry="2.20" fill="#3a3a3a" filter="url(#bl1)"/>
<rect x="370.24" y="598.96" width="25.55" height="4.40" rx="5.46" ry="2.20" fill="#3a3a3a" filter="url(#bl1)"/>
</g>
<rect x="326.50" y="590.30" width="75.40" height="19.10" fill="none" stroke="#151515" stroke-width="1.7"/>
<clipPath id="c26"><rect x="411.40" y="590.30" width="74.90" height="19.10"/></clipPath>
<g clip-path="url(#c26)">
<rect x="411.40" y="590.30" width="74.90" height="19.10" fill="#d6d6d6"/>
<rect x="415.29" y="597.38" width="27.07" height="6.69" rx="7.52" ry="3.34" fill="#1e1e1e" filter="url(#bl1)"/>
<rect x="451.02" y="596.56" width="29.24" height="6.16" rx="7.04" ry="3.08" fill="#1e1e1e" filter="url(#bl1)"/>
</g>
<rect x="411.40" y="590.30" width="74.90" height="19.10" fill="none" stroke="#151515" stroke-width="1.7"/>
<clipPath id="c27"><rect x="326.50" y="613.10" width="75.40" height="18.80"/></clipPath>
<g clip-path="url(#c27)">
<rect x="326.50" y="613.10" width="75.40" height="18.80" fill="#dedede"/>
<rect x="331.91" y="619.06" width="27.07" height="6.65" rx="7.48" ry="3.32" fill="#2e2e2e" filter="url(#bl2)"/>
<rect x="371.54" y="621.05" width="25.34" height="5.70" rx="6.63" ry="2.85" fill="#666" filter="url(#bl2)"/>
</g>
<rect x="326.50" y="613.10" width="75.40" height="18.80" fill="none" stroke="#151515" stroke-width="1.7"/>
<clipPath id="c28"><rect x="411.40" y="613.10" width="74.90" height="18.80"/></clipPath>
<g clip-path="url(#c28)">
<rect x="411.40" y="613.10" width="74.90" height="18.80" fill="#dcdcdc"/>
<rect x="415.29" y="622.35" width="29.89" height="4.40" rx="5.46" ry="2.20" fill="#2a2a2a" filter="url(#bl1)"/>
<rect x="452.54" y="621.71" width="28.80" height="3.08" rx="4.27" ry="1.54" fill="#4a4a4a" filter="url(#bl1)" transform="rotate(-8.55 466.94 623.25)"/>
</g>
<rect x="411.40" y="613.10" width="74.90" height="18.80" fill="none" stroke="#151515" stroke-width="1.7"/>
<clipPath id="c29"><rect x="326.50" y="635.80" width="75.40" height="19.10"/></clipPath>
<g clip-path="url(#c29)">
<rect x="326.50" y="635.80" width="75.40" height="19.10" fill="#e0e0e0"/>
<rect x="331.91" y="640.43" width="27.07" height="8.07" rx="8.77" ry="4.04" fill="#2a2a2a" filter="url(#bl2)"/>
<rect x="371.54" y="643.12" width="23.17" height="6.17" rx="7.06" ry="3.09" fill="#9a9a9a" filter="url(#bl2)"/>
</g>
<rect x="326.50" y="635.80" width="75.40" height="19.10" fill="none" stroke="#151515" stroke-width="1.7"/>
<clipPath id="c30"><rect x="411.40" y="635.80" width="74.90" height="19.10"/></clipPath>
<g clip-path="url(#c30)">
<rect x="411.40" y="635.80" width="74.90" height="19.10" fill="#d6d6d6"/>
<rect x="415.29" y="640.57" width="24.90" height="9.97" rx="10.48" ry="4.99" fill="#1e1e1e" filter="url(#bl2)"/>
<rect x="452.10" y="641.99" width="25.99" height="7.12" rx="7.91" ry="3.56" fill="#5e5e5e" filter="url(#bl2)"/>
</g>
<rect x="411.40" y="635.80" width="74.90" height="19.10" fill="none" stroke="#151515" stroke-width="1.7"/>
<clipPath id="c31"><rect x="326.50" y="659.20" width="75.40" height="18.80"/></clipPath>
<g clip-path="url(#c31)">
<rect x="326.50" y="659.20" width="75.40" height="18.80" fill="#e6e6e6"/>
<rect x="331.91" y="666.53" width="27.50" height="4.40" rx="5.46" ry="2.20" fill="#1e1e1e" filter="url(#bl1)"/>
<rect x="370.24" y="666.09" width="25.55" height="5.28" rx="6.25" ry="2.64" fill="#1e1e1e" filter="url(#bl1)"/>
</g>
<rect x="326.50" y="659.20" width="75.40" height="18.80" fill="none" stroke="#151515" stroke-width="1.7"/>
<clipPath id="c32"><rect x="411.40" y="659.20" width="74.90" height="18.80"/></clipPath>
<g clip-path="url(#c32)">
<rect x="411.40" y="659.20" width="74.90" height="18.80" fill="#dedede"/>
<rect x="415.29" y="666.74" width="28.15" height="5.28" rx="6.25" ry="2.64" fill="#1e1e1e" filter="url(#bl1)"/>
<rect x="451.02" y="665.65" width="29.24" height="5.28" rx="6.25" ry="2.64" fill="#1e1e1e" filter="url(#bl1)"/>
</g>
<rect x="411.40" y="659.20" width="74.90" height="18.80" fill="none" stroke="#151515" stroke-width="1.7"/>
<text x="321" y="515.65" font-size="10.5" font-weight="bold" text-anchor="end" fill="#111" stroke="#111" stroke-width="0.3">JAK2</text>
<text x="321" y="537.95" font-size="10.5" font-weight="bold" text-anchor="end" fill="#111" stroke="#111" stroke-width="0.3">STAT3</text>
<text x="321" y="560.05" font-size="10.5" font-weight="bold" text-anchor="end" fill="#111" stroke="#111" stroke-width="0.3">JNK</text>
<text x="321" y="581.6" font-size="10.5" font-weight="bold" text-anchor="end" fill="#111" stroke="#111" stroke-width="0.3">ERK1/2</text>
<text x="321" y="603.65" font-size="10.5" font-weight="bold" text-anchor="end" fill="#111" stroke="#111" stroke-width="0.3">β-catenin</text>
<text x="321" y="626.3" font-size="10.5" font-weight="bold" text-anchor="end" fill="#111" stroke="#111" stroke-width="0.3">p52</text>
<text x="321" y="649.15" font-size="10.5" font-weight="bold" text-anchor="end" fill="#111" stroke="#111" stroke-width="0.3">p65</text>
<text x="321" y="672.4" font-size="10.5" font-weight="bold" text-anchor="end" fill="#111" stroke="#111" stroke-width="0.3">β-actin</text>
<text x="490.1" y="515.65" font-size="10.5" font-weight="bold" fill="#111" stroke="#111" stroke-width="0.3">125</text>
<text x="490.1" y="537.95" font-size="10.5" font-weight="bold" fill="#111" stroke="#111" stroke-width="0.3">86</text>
<text x="490.1" y="560.05" font-size="10.5" font-weight="bold" fill="#111" stroke="#111" stroke-width="0.3">48</text>
<text x="490.1" y="581.6" font-size="10.5" font-weight="bold" fill="#111" stroke="#111" stroke-width="0.3">40</text>
<text x="490.1" y="603.65" font-size="10.5" font-weight="bold" fill="#111" stroke="#111" stroke-width="0.3">92</text>
<text x="490.1" y="626.3" font-size="10.5" font-weight="bold" fill="#111" stroke="#111" stroke-width="0.3">52</text>
<text x="490.1" y="649.15" font-size="10.5" font-weight="bold" fill="#111" stroke="#111" stroke-width="0.3">65</text>
<text x="490.1" y="672.4" font-size="10.5" font-weight="bold" fill="#111" stroke="#111" stroke-width="0.3">43</text>
<text x="335.2" y="499.2" font-size="11.3" font-weight="bold" transform="rotate(-12.8 335.2 499.2)" textLength="30.5" lengthAdjust="spacingAndGlyphs" fill="#111" stroke="#111" stroke-width="0.3">vector</text>
<text x="375.8" y="499.9" font-size="11.3" font-weight="bold" transform="rotate(-12.8 375.8 499.9)" textLength="51.5" lengthAdjust="spacingAndGlyphs" fill="#111" stroke="#111" stroke-width="0.3">miR503HG</text>
<text x="427.3" y="497.9" font-size="11.3" font-weight="bold" transform="rotate(-12.8 427.3 497.9)" textLength="30.5" lengthAdjust="spacingAndGlyphs" fill="#111" stroke="#111" stroke-width="0.3">vector</text>
<text x="468.8" y="497.9" font-size="11.3" font-weight="bold" transform="rotate(-12.8 468.8 497.9)" textLength="51.5" lengthAdjust="spacingAndGlyphs" fill="#111" stroke="#111" stroke-width="0.3">miR503HG</text>
<text x="490.2" y="502.8" font-size="10" font-weight="bold" fill="#111" stroke="#111" stroke-width="0.3">kDa</text>
<text x="366.4" y="689.4" font-size="10" font-weight="bold" text-anchor="middle" textLength="52.7" lengthAdjust="spacingAndGlyphs" fill="#111" stroke="#111" stroke-width="0.3">SMMC7721</text>
<text x="449.7" y="689.4" font-size="10" font-weight="bold" text-anchor="middle" textLength="25.5" lengthAdjust="spacingAndGlyphs" fill="#111" stroke="#111" stroke-width="0.3">Huh7</text>
<text x="536.8" y="487.3" font-size="18.5" font-weight="bold" fill="#111" stroke="#111" stroke-width="0.3">F</text>
<clipPath id="c33"><rect x="572.60" y="488.30" width="75.10" height="18.40"/></clipPath>
<g clip-path="url(#c33)">
<rect x="572.60" y="488.30" width="75.10" height="18.40" fill="#e8e8e8"/>
<rect x="575.83" y="496.11" width="30.32" height="2.64" rx="3.88" ry="1.32" fill="#707070" filter="url(#bl1)"/>
<rect x="613.73" y="496.54" width="27.07" height="3.08" rx="4.27" ry="1.54" fill="#6a6a6a" filter="url(#bl1)"/>
</g>
<rect x="572.60" y="488.30" width="75.10" height="18.40" fill="none" stroke="#151515" stroke-width="1.7"/>
<clipPath id="c34"><rect x="656.40" y="488.30" width="75.40" height="18.40"/></clipPath>
<g clip-path="url(#c34)">
<rect x="656.40" y="488.30" width="75.40" height="18.40" fill="#f0f0f0"/>
<rect x="663.54" y="497.40" width="24.90" height="3.52" rx="4.67" ry="1.76" fill="#858585" filter="url(#bl1)"/>
<rect x="702.52" y="496.96" width="25.99" height="4.40" rx="5.46" ry="2.20" fill="#5e5e5e" filter="url(#bl1)"/>
</g>
<rect x="656.40" y="488.30" width="75.40" height="18.40" fill="none" stroke="#151515" stroke-width="1.7"/>
<clipPath id="c35"><rect x="572.60" y="511.10" width="75.10" height="19.00"/></clipPath>
<g clip-path="url(#c35)">
<rect x="572.60" y="511.10" width="75.10" height="19.00" fill="#e0e0e0"/>
<rect x="576.91" y="519.05" width="29.24" height="4.40" rx="5.46" ry="2.20" fill="#4a4a4a" filter="url(#bl1)"/>
<rect x="613.73" y="516.88" width="29.24" height="4.84" rx="5.86" ry="2.42" fill="#2a2a2a" filter="url(#bl1)"/>
</g>
<rect x="572.60" y="511.10" width="75.10" height="19.00" fill="none" stroke="#151515" stroke-width="1.7"/>
<clipPath id="c36"><rect x="656.40" y="511.10" width="75.40" height="19.00"/></clipPath>
<g clip-path="url(#c36)">
<rect x="656.40" y="511.10" width="75.40" height="19.00" fill="#e9e9e9"/>
<rect x="661.37" y="519.27" width="28.15" height="3.96" rx="5.06" ry="1.98" fill="#606060" filter="url(#bl1)"/>
<rect x="696.02" y="518.62" width="30.32" height="4.40" rx="5.46" ry="2.20" fill="#4e4e4e" filter="url(#bl1)"/>
</g>
<rect x="656.40" y="511.10" width="75.40" height="19.00" fill="none" stroke="#151515" stroke-width="1.7"/>
<clipPath id="c37"><rect x="572.60" y="533.80" width="75.10" height="18.40"/></clipPath>
<g clip-path="url(#c37)">
<rect x="572.60" y="533.80" width="75.10" height="18.40" fill="#cbcbcb"/>
<rect x="613.73" y="542.26" width="24.90" height="4.75" rx="5.78" ry="2.38" fill="#adadad" filter="url(#bl2)"/>
</g>
<rect x="572.60" y="533.80" width="75.10" height="18.40" fill="none" stroke="#151515" stroke-width="1.7"/>
<clipPath id="c38"><rect x="656.40" y="533.80" width="75.40" height="18.40"/></clipPath>
<g clip-path="url(#c38)">
<rect x="656.40" y="533.80" width="75.40" height="18.40" fill="#e4e4e4"/>
<rect x="660.29" y="542.01" width="30.32" height="3.08" rx="4.27" ry="1.54" fill="#858585" filter="url(#bl1)"/>
<rect x="699.27" y="543.31" width="27.07" height="3.96" rx="5.06" ry="1.98" fill="#707070" filter="url(#bl1)"/>
</g>
<rect x="656.40" y="533.80" width="75.40" height="18.40" fill="none" stroke="#151515" stroke-width="1.7"/>
<clipPath id="c39"><rect x="572.60" y="556.10" width="75.10" height="18.90"/></clipPath>
<g clip-path="url(#c39)">
<rect x="572.60" y="556.10" width="75.10" height="18.90" fill="#e4e4e4"/>
<rect x="575.83" y="564.09" width="31.40" height="5.28" rx="6.25" ry="2.64" fill="#2a2a2a" filter="url(#bl1)"/>
<rect x="609.40" y="563.88" width="33.57" height="4.40" rx="5.46" ry="2.20" fill="#2a2a2a" filter="url(#bl1)" transform="rotate(-2.95 626.18 566.08)"/>
</g>
<rect x="572.60" y="556.10" width="75.10" height="18.90" fill="none" stroke="#151515" stroke-width="1.7"/>
<clipPath id="c40"><rect x="656.40" y="556.10" width="75.40" height="18.90"/></clipPath>
<g clip-path="url(#c40)">
<rect x="656.40" y="556.10" width="75.40" height="18.90" fill="#ececec"/>
<rect x="660.29" y="562.78" width="35.73" height="6.16" rx="7.04" ry="3.08" fill="#1e1e1e" filter="url(#bl1)"/>
<rect x="693.85" y="563.43" width="33.57" height="5.72" rx="6.65" ry="2.86" fill="#222" filter="url(#bl1)"/>
</g>
<rect x="656.40" y="556.10" width="75.40" height="18.90" fill="none" stroke="#151515" stroke-width="1.7"/>
<text x="568.9" y="501.3" font-size="10.5" font-weight="bold" text-anchor="end" fill="#111" stroke="#111" stroke-width="0.3">p52</text>
<text x="568.9" y="524.4" font-size="10.5" font-weight="bold" text-anchor="end" fill="#111" stroke="#111" stroke-width="0.3">p65</text>
<text x="568.9" y="546.8" font-size="10.5" font-weight="bold" text-anchor="end" fill="#111" stroke="#111" stroke-width="0.3">p-p65</text>
<text x="568.9" y="569.35" font-size="10.5" font-weight="bold" text-anchor="end" fill="#111" stroke="#111" stroke-width="0.3">β-actin</text>
<text x="734.9" y="501.3" font-size="10.5" font-weight="bold" fill="#111" stroke="#111" stroke-width="0.3">52</text>
<text x="734.9" y="524.4" font-size="10.5" font-weight="bold" fill="#111" stroke="#111" stroke-width="0.3">65</text>
<text x="734.9" y="546.8" font-size="10.5" font-weight="bold" fill="#111" stroke="#111" stroke-width="0.3">65</text>
<text x="734.9" y="569.35" font-size="10.5" font-weight="bold" fill="#111" stroke="#111" stroke-width="0.3">43</text>
<text x="582" y="486.3" font-size="11.3" font-weight="bold" transform="rotate(-12.8 582 486.3)" textLength="27.3" lengthAdjust="spacingAndGlyphs" fill="#111" stroke="#111" stroke-width="0.3">si-NC</text>
<text x="612.5" y="483.6" font-size="11.3" font-weight="bold" transform="rotate(-12.8 612.5 483.6)" textLength="78.5" lengthAdjust="spacingAndGlyphs" fill="#111" stroke="#111" stroke-width="0.3">si-miR503HG-2#</text>
<text x="668.6" y="485.2" font-size="11.3" font-weight="bold" transform="rotate(-12.8 668.6 485.2)" textLength="27.3" lengthAdjust="spacingAndGlyphs" fill="#111" stroke="#111" stroke-width="0.3">si-NC</text>
<text x="699.8" y="483.1" font-size="11.3" font-weight="bold" transform="rotate(-12.8 699.8 483.1)" textLength="78.5" lengthAdjust="spacingAndGlyphs" fill="#111" stroke="#111" stroke-width="0.3">si-miR503HG-2#</text>
<text x="735.3" y="489.4" font-size="10" font-weight="bold" fill="#111" stroke="#111" stroke-width="0.3">kDa</text>
<text x="614" y="587.9" font-size="10" font-weight="bold" text-anchor="middle" textLength="52.7" lengthAdjust="spacingAndGlyphs" fill="#111" stroke="#111" stroke-width="0.3">SMMC7721</text>
<text x="695.2" y="587.9" font-size="10" font-weight="bold" text-anchor="middle" textLength="25.5" lengthAdjust="spacingAndGlyphs" fill="#111" stroke="#111" stroke-width="0.3">Huh7</text>
<text x="536.5" y="620.3" font-size="18.5" font-weight="bold" fill="#111" stroke="#111" stroke-width="0.3">G</text>
<clipPath id="c41"><rect x="575.40" y="626.40" width="150.30" height="18.80"/></clipPath>
<g clip-path="url(#c41)">
<rect x="575.40" y="626.40" width="150.30" height="18.80" fill="#dedede"/>
<rect x="584.49" y="632.19" width="32.48" height="7.92" rx="8.63" ry="3.96" fill="#1e1e1e" filter="url(#bl1)"/>
<rect x="621.74" y="633.28" width="28.80" height="7.04" rx="7.84" ry="3.52" fill="#3a3a3a" filter="url(#bl1)"/>
<rect x="658.56" y="633.51" width="24.47" height="6.16" rx="7.04" ry="3.08" fill="#2e2e2e" filter="url(#bl1)"/>
<rect x="694.50" y="633.73" width="23.17" height="4.84" rx="5.86" ry="2.42" fill="#606060" filter="url(#bl1)"/>
</g>
<rect x="575.40" y="626.40" width="150.30" height="18.80" fill="none" stroke="#151515" stroke-width="1.7"/>
<clipPath id="c42"><rect x="575.40" y="650.90" width="150.30" height="18.80"/></clipPath>
<g clip-path="url(#c42)">
<rect x="575.40" y="650.90" width="150.30" height="18.80" fill="#dadada"/>
<rect x="583.41" y="655.14" width="33.57" height="8.80" rx="9.42" ry="4.40" fill="#1e1e1e" filter="url(#bl1)"/>
<rect x="618.06" y="656.90" width="29.24" height="6.16" rx="7.04" ry="3.08" fill="#4a4a4a" filter="url(#bl1)"/>
<rect x="654.87" y="657.77" width="28.15" height="5.28" rx="6.25" ry="2.64" fill="#505050" filter="url(#bl1)"/>
<rect x="691.69" y="658.64" width="27.50" height="3.96" rx="5.06" ry="1.98" fill="#606060" filter="url(#bl1)"/>
</g>
<rect x="575.40" y="650.90" width="150.30" height="18.80" fill="none" stroke="#151515" stroke-width="1.7"/>
<clipPath id="c43"><rect x="575.40" y="676.20" width="150.30" height="17.30"/></clipPath>
<g clip-path="url(#c43)">
<rect x="575.40" y="676.20" width="150.30" height="17.30" fill="#e2e2e2"/>
<rect x="583.41" y="682.89" width="30.32" height="4.84" rx="5.86" ry="2.42" fill="#1e1e1e" filter="url(#bl1)"/>
<rect x="620.22" y="682.89" width="28.15" height="4.84" rx="5.86" ry="2.42" fill="#1e1e1e" filter="url(#bl1)"/>
<rect x="653.79" y="682.46" width="29.24" height="4.84" rx="5.86" ry="2.42" fill="#1e1e1e" filter="url(#bl1)"/>
<rect x="688.44" y="681.37" width="31.40" height="5.28" rx="6.25" ry="2.64" fill="#1e1e1e" filter="url(#bl1)"/>
</g>
<rect x="575.40" y="676.20" width="150.30" height="17.30" fill="none" stroke="#151515" stroke-width="1.7"/>
<text x="573" y="639.6" font-size="10.5" font-weight="bold" text-anchor="end" fill="#111" stroke="#111" stroke-width="0.3">p65</text>
<text x="573" y="664.1" font-size="10.5" font-weight="bold" text-anchor="end" fill="#111" stroke="#111" stroke-width="0.3">p-p65</text>
<text x="573" y="688.65" font-size="10.5" font-weight="bold" text-anchor="end" fill="#111" stroke="#111" stroke-width="0.3">β-actin</text>
<text x="730" y="639.6" font-size="10.5" font-weight="bold" fill="#111" stroke="#111" stroke-width="0.3">65</text>
<text x="730" y="664.1" font-size="10.5" font-weight="bold" fill="#111" stroke="#111" stroke-width="0.3">65</text>
<text x="730" y="688.65" font-size="10.5" font-weight="bold" fill="#111" stroke="#111" stroke-width="0.3">43</text>
<polygon points="575.8,619.9 725.3,612.8 725.3,619.9" fill="#ffffff" stroke="#151515" stroke-width="1"/>
<text x="587.8" y="608" font-size="10" font-weight="bold" textLength="56.3" lengthAdjust="spacingAndGlyphs" fill="#111" stroke="#111" stroke-width="0.3">miR-503HG</text>
<text x="729.8" y="627.2" font-size="10" font-weight="bold" fill="#111" stroke="#111" stroke-width="0.3">kDa</text>
<text x="655.4" y="707.9" font-size="10" font-weight="bold" text-anchor="middle" textLength="52.7" lengthAdjust="spacingAndGlyphs" fill="#111" stroke="#111" stroke-width="0.3">SMMC7721</text>
<text x="12" y="745.8" font-size="18.5" font-weight="bold" fill="#111" stroke="#111" stroke-width="0.3">H</text>
<clipPath id="c44"><rect x="53.40" y="756.90" width="75.20" height="19.10"/></clipPath>
<g clip-path="url(#c44)">
<rect x="53.40" y="756.90" width="75.20" height="19.10" fill="#dedede"/>
<rect x="58.83" y="764.00" width="25.99" height="6.65" rx="7.48" ry="3.32" fill="#606060" filter="url(#bl2)"/>
<rect x="96.73" y="762.07" width="27.07" height="7.04" rx="7.84" ry="3.52" fill="#222" filter="url(#bl1)"/>
</g>
<rect x="53.40" y="756.90" width="75.20" height="19.10" fill="none" stroke="#151515" stroke-width="1.7"/>
<clipPath id="c45"><rect x="139.40" y="756.90" width="75.40" height="19.10"/></clipPath>
<g clip-path="url(#c45)">
<rect x="139.40" y="756.90" width="75.40" height="19.10" fill="#e6e6e6"/>
<rect x="141.56" y="762.53" width="25.99" height="4.40" rx="5.46" ry="2.20" fill="#505050" filter="url(#bl1)"/>
<rect x="185.52" y="761.21" width="22.74" height="7.04" rx="7.84" ry="3.52" fill="#1e1e1e" filter="url(#bl1)"/>
</g>
<rect x="139.40" y="756.90" width="75.40" height="19.10" fill="none" stroke="#151515" stroke-width="1.7"/>
<clipPath id="c46"><rect x="53.40" y="779.90" width="75.20" height="18.80"/></clipPath>
<g clip-path="url(#c46)">
<rect x="53.40" y="779.90" width="75.20" height="18.80" fill="#d2d2d2"/>
<rect x="54.50" y="792.23" width="32.48" height="6.50" fill="#b4b4b4" filter="url(#bl2)"/>
<rect x="96.73" y="792.23" width="29.24" height="6.50" fill="#b8b8b8" filter="url(#bl2)"/>
<rect x="56.66" y="786.98" width="30.32" height="6.16" rx="7.04" ry="3.08" fill="#222" filter="url(#bl1)"/>
<rect x="98.24" y="784.59" width="25.99" height="7.92" rx="8.63" ry="3.96" fill="#1e1e1e" filter="url(#bl1)"/>
</g>
<rect x="53.40" y="779.90" width="75.20" height="18.80" fill="none" stroke="#151515" stroke-width="1.7"/>
<clipPath id="c47"><rect x="139.40" y="779.90" width="75.40" height="18.80"/></clipPath>
<g clip-path="url(#c47)">
<rect x="139.40" y="779.90" width="75.40" height="18.80" fill="#eaeaea"/>
<rect x="143.29" y="786.26" width="24.90" height="7.60" rx="8.34" ry="3.80" fill="#c0c0c0" filter="url(#bl2)"/>
<rect x="177.94" y="785.31" width="31.40" height="9.50" rx="10.05" ry="4.75" fill="#a6a6a6" filter="url(#bl2)"/>
</g>
<rect x="139.40" y="779.90" width="75.40" height="18.80" fill="none" stroke="#151515" stroke-width="1.7"/>
<clipPath id="c48"><rect x="53.40" y="803.10" width="75.20" height="18.80"/></clipPath>
<g clip-path="url(#c48)">
<rect x="53.40" y="803.10" width="75.20" height="18.80" fill="#dadada"/>
<rect x="60.99" y="812.13" width="29.24" height="3.52" rx="4.67" ry="1.76" fill="#222" filter="url(#bl1)"/>
<rect x="94.56" y="811.47" width="28.15" height="3.96" rx="5.06" ry="1.98" fill="#222" filter="url(#bl1)"/>
</g>
<rect x="53.40" y="803.10" width="75.20" height="18.80" fill="none" stroke="#151515" stroke-width="1.7"/>
<clipPath id="c49"><rect x="139.40" y="803.10" width="75.40" height="18.80"/></clipPath>
<g clip-path="url(#c49)">
<rect x="139.40" y="803.10" width="75.40" height="18.80" fill="#e2e2e2"/>
<rect x="145.45" y="810.37" width="28.15" height="6.16" rx="7.04" ry="3.08" fill="#5a5a5a" filter="url(#bl1)"/>
<rect x="180.10" y="809.28" width="28.59" height="7.04" rx="7.84" ry="3.52" fill="#4a4a4a" filter="url(#bl1)"/>
</g>
<rect x="139.40" y="803.10" width="75.40" height="18.80" fill="none" stroke="#151515" stroke-width="1.7"/>
<clipPath id="c50"><rect x="53.40" y="825.80" width="75.20" height="18.80"/></clipPath>
<g clip-path="url(#c50)">
<rect x="53.40" y="825.80" width="75.20" height="18.80" fill="#b6b6b6"/>
<rect x="82.65" y="825.80" width="6.06" height="10.83" fill="#dcdcdc" filter="url(#bl2)"/>
<rect x="56.66" y="829.58" width="25.99" height="7.60" rx="8.34" ry="3.80" fill="#a6a6a6" filter="url(#bl2)"/>
<rect x="97.81" y="829.58" width="27.07" height="7.60" rx="8.34" ry="3.80" fill="#9a9a9a" filter="url(#bl2)"/>
</g>
<rect x="53.40" y="825.80" width="75.20" height="18.80" fill="none" stroke="#151515" stroke-width="1.7"/>
<clipPath id="c51"><rect x="139.40" y="825.80" width="75.40" height="18.80"/></clipPath>
<g clip-path="url(#c51)">
<rect x="139.40" y="825.80" width="75.40" height="18.80" fill="#b2b2b2"/>
<rect x="143.29" y="832.83" width="28.15" height="7.60" rx="8.34" ry="3.80" fill="#a2a2a2" filter="url(#bl2)"/>
<rect x="184.43" y="831.74" width="24.90" height="7.60" rx="8.34" ry="3.80" fill="#a2a2a2" filter="url(#bl2)"/>
</g>
<rect x="139.40" y="825.80" width="75.40" height="18.80" fill="none" stroke="#151515" stroke-width="1.7"/>
<clipPath id="c52"><rect x="53.40" y="848.50" width="75.20" height="18.90"/></clipPath>
<g clip-path="url(#c52)">
<rect x="53.40" y="848.50" width="75.20" height="18.90" fill="#e2e2e2"/>
<rect x="58.83" y="855.20" width="27.07" height="6.16" rx="7.04" ry="3.08" fill="#1e1e1e" filter="url(#bl1)"/>
<rect x="94.56" y="855.20" width="27.07" height="6.16" rx="7.04" ry="3.08" fill="#1e1e1e" filter="url(#bl1)"/>
</g>
<rect x="53.40" y="848.50" width="75.20" height="18.90" fill="none" stroke="#151515" stroke-width="1.7"/>
<clipPath id="c53"><rect x="139.40" y="848.50" width="75.40" height="18.90"/></clipPath>
<g clip-path="url(#c53)">
<rect x="139.40" y="848.50" width="75.40" height="18.90" fill="#e6e6e6"/>
<rect x="143.29" y="856.07" width="29.24" height="5.72" rx="6.65" ry="2.86" fill="#222" filter="url(#bl1)"/>
<rect x="180.10" y="854.33" width="28.15" height="7.04" rx="7.84" ry="3.52" fill="#1e1e1e" filter="url(#bl1)"/>
</g>
<rect x="139.40" y="848.50" width="75.40" height="18.90" fill="none" stroke="#151515" stroke-width="1.7"/>
<text x="46.4" y="770.25" font-size="10.5" font-weight="bold" text-anchor="end" fill="#111" stroke="#111" stroke-width="0.3">c-myc</text>
<text x="46.4" y="793.1" font-size="10.5" font-weight="bold" text-anchor="end" fill="#111" stroke="#111" stroke-width="0.3">EZH2</text>
<text x="46.4" y="816.3" font-size="10.5" font-weight="bold" text-anchor="end" fill="#111" stroke="#111" stroke-width="0.3">COX2</text>
<text x="46.4" y="839.0" font-size="10.5" font-weight="bold" text-anchor="end" fill="#111" stroke="#111" stroke-width="0.3">VCAM1</text>
<text x="46.4" y="861.75" font-size="10.5" font-weight="bold" text-anchor="end" fill="#111" stroke="#111" stroke-width="0.3">β-actin</text>
<text x="67.6" y="751.8" font-size="11.3" font-weight="bold" transform="rotate(-12.8 67.6 751.8)" textLength="27.3" lengthAdjust="spacingAndGlyphs" fill="#111" stroke="#111" stroke-width="0.3">si-NC</text>
<text x="98.2" y="750.5" font-size="11.3" font-weight="bold" transform="rotate(-12.8 98.2 750.5)" textLength="78.5" lengthAdjust="spacingAndGlyphs" fill="#111" stroke="#111" stroke-width="0.3">si-miR503HG-1#</text>
<text x="154.3" y="750.5" font-size="11.3" font-weight="bold" transform="rotate(-12.8 154.3 750.5)" textLength="27.3" lengthAdjust="spacingAndGlyphs" fill="#111" stroke="#111" stroke-width="0.3">si-NC</text>
<text x="184.7" y="749.7" font-size="11.3" font-weight="bold" transform="rotate(-12.8 184.7 749.7)" textLength="78.5" lengthAdjust="spacingAndGlyphs" fill="#111" stroke="#111" stroke-width="0.3">si-miR503HG-1#</text>
<text x="91.2" y="880.6" font-size="10" font-weight="bold" text-anchor="middle" textLength="58.5" lengthAdjust="spacingAndGlyphs" fill="#111" stroke="#111" stroke-width="0.3">SMMC-7721</text>
<text x="177.7" y="880.6" font-size="10" font-weight="bold" text-anchor="middle" textLength="25.5" lengthAdjust="spacingAndGlyphs" fill="#111" stroke="#111" stroke-width="0.3">Huh7</text>
<clipPath id="c54"><rect x="269.60" y="756.50" width="75.10" height="19.10"/></clipPath>
<g clip-path="url(#c54)">
<rect x="269.60" y="756.50" width="75.10" height="19.10" fill="#dadada"/>
<rect x="310.73" y="764.52" width="25.99" height="4.75" rx="5.78" ry="2.38" fill="#a8a8a8" filter="url(#bl2)"/>
<rect x="274.99" y="766.51" width="28.15" height="3.80" rx="4.92" ry="1.90" fill="#c4c4c4" filter="url(#bl2)"/>
</g>
<rect x="269.60" y="756.50" width="75.10" height="19.10" fill="none" stroke="#151515" stroke-width="1.7"/>
<clipPath id="c55"><rect x="352.50" y="756.50" width="75.20" height="19.10"/></clipPath>
<g clip-path="url(#c55)">
<rect x="352.50" y="756.50" width="75.20" height="19.10" fill="#d2d2d2"/>
<rect x="357.29" y="765.38" width="25.99" height="4.75" rx="5.78" ry="2.38" fill="#b6b6b6" filter="url(#bl2)"/>
<rect x="391.94" y="764.48" width="30.32" height="5.70" rx="6.63" ry="2.85" fill="#a6a6a6" filter="url(#bl2)"/>
</g>
<rect x="352.50" y="756.50" width="75.20" height="19.10" fill="none" stroke="#151515" stroke-width="1.7"/>
<clipPath id="c56"><rect x="269.60" y="779.90" width="75.10" height="18.80"/></clipPath>
<g clip-path="url(#c56)">
<rect x="269.60" y="779.90" width="75.10" height="18.80" fill="#e2e2e2"/>
<rect x="274.99" y="786.99" width="29.24" height="5.28" rx="6.25" ry="2.64" fill="#3e3e3e" filter="url(#bl1)"/>
<rect x="312.89" y="786.99" width="27.07" height="5.28" rx="6.25" ry="2.64" fill="#3e3e3e" filter="url(#bl1)"/>
</g>
<rect x="269.60" y="779.90" width="75.10" height="18.80" fill="none" stroke="#151515" stroke-width="1.7"/>
<clipPath id="c57"><rect x="352.50" y="779.90" width="75.20" height="18.80"/></clipPath>
<g clip-path="url(#c57)">
<rect x="352.50" y="779.90" width="75.20" height="18.80" fill="#dedede"/>
<rect x="357.29" y="787.86" width="25.99" height="4.40" rx="5.46" ry="2.20" fill="#4e4e4e" filter="url(#bl1)"/>
<rect x="393.02" y="786.77" width="30.32" height="5.28" rx="6.25" ry="2.64" fill="#2a2a2a" filter="url(#bl1)" transform="rotate(-3.27 408.18 789.41)"/>
</g>
<rect x="352.50" y="779.90" width="75.20" height="18.80" fill="none" stroke="#151515" stroke-width="1.7"/>
<clipPath id="c58"><rect x="269.60" y="803.10" width="75.10" height="19.00"/></clipPath>
<g clip-path="url(#c58)">
<rect x="269.60" y="803.10" width="75.10" height="19.00" fill="#dadada"/>
<rect x="274.99" y="813.22" width="28.15" height="2.64" rx="3.88" ry="1.32" fill="#b6b6b6" filter="url(#bl1)"/>
<rect x="311.81" y="811.69" width="25.99" height="3.52" rx="4.67" ry="1.76" fill="#969696" filter="url(#bl1)"/>
</g>
<rect x="269.60" y="803.10" width="75.10" height="19.00" fill="none" stroke="#151515" stroke-width="1.7"/>
<clipPath id="c59"><rect x="352.50" y="803.10" width="75.20" height="19.00"/></clipPath>
<g clip-path="url(#c59)">
<rect x="352.50" y="803.10" width="75.20" height="19.00" fill="#b9b9b9"/>
<rect x="357.29" y="811.69" width="28.15" height="5.70" rx="6.63" ry="2.85" fill="#808080" filter="url(#bl2)"/>
<rect x="394.10" y="811.21" width="28.15" height="6.65" rx="7.48" ry="3.32" fill="#6a6a6a" filter="url(#bl2)"/>
</g>
<rect x="352.50" y="803.10" width="75.20" height="19.00" fill="none" stroke="#151515" stroke-width="1.7"/>
<clipPath id="c60"><rect x="269.60" y="826.90" width="75.10" height="18.80"/></clipPath>
<g clip-path="url(#c60)">
<rect x="269.60" y="826.90" width="75.10" height="18.80" fill="#8a8a8a"/>
<rect x="306.40" y="825.80" width="7.58" height="20.57" fill="#c2c2c2" filter="url(#bl2)"/>
<rect x="270.66" y="825.80" width="17.33" height="6.50" fill="#7a7a7a" filter="url(#bl2)"/>
<rect x="318.31" y="825.80" width="23.82" height="7.58" fill="#7e7e7e" filter="url(#bl2)"/>
<rect x="272.83" y="835.31" width="70.38" height="2.64" rx="3.88" ry="1.32" fill="#2a2a2a" filter="url(#bl1)"/>
</g>
<rect x="269.60" y="826.90" width="75.10" height="18.80" fill="none" stroke="#151515" stroke-width="1.7"/>
<clipPath id="c61"><rect x="352.50" y="826.90" width="75.20" height="18.80"/></clipPath>
<g clip-path="url(#c61)">
<rect x="352.50" y="826.90" width="75.20" height="18.80" fill="#cecece"/>
<rect x="357.29" y="834.25" width="25.99" height="4.75" rx="5.78" ry="2.38" fill="#a8a8a8" filter="url(#bl2)"/>
<rect x="394.10" y="833.30" width="28.15" height="6.65" rx="7.48" ry="3.32" fill="#9e9e9e" filter="url(#bl2)"/>
</g>
<rect x="352.50" y="826.90" width="75.20" height="18.80" fill="none" stroke="#151515" stroke-width="1.7"/>
<clipPath id="c62"><rect x="269.60" y="850.00" width="75.10" height="19.10"/></clipPath>
<g clip-path="url(#c62)">
<rect x="269.60" y="850.00" width="75.10" height="19.10" fill="#d2d2d2"/>
<rect x="272.83" y="855.18" width="35.73" height="8.36" rx="9.02" ry="4.18" fill="#1e1e1e" filter="url(#bl1)"/>
<rect x="305.31" y="855.18" width="35.73" height="8.36" rx="9.02" ry="4.18" fill="#1e1e1e" filter="url(#bl1)"/>
</g>
<rect x="269.60" y="850.00" width="75.10" height="19.10" fill="none" stroke="#151515" stroke-width="1.7"/>
<clipPath id="c63"><rect x="352.50" y="850.00" width="75.20" height="19.10"/></clipPath>
<g clip-path="url(#c63)">
<rect x="352.50" y="850.00" width="75.20" height="19.10" fill="#eaeaea"/>
<rect x="356.20" y="857.37" width="29.24" height="6.16" rx="7.04" ry="3.08" fill="#1e1e1e" filter="url(#bl1)"/>
<rect x="394.10" y="857.37" width="29.24" height="6.16" rx="7.04" ry="3.08" fill="#1e1e1e" filter="url(#bl1)"/>
</g>
<rect x="352.50" y="850.00" width="75.20" height="19.10" fill="none" stroke="#151515" stroke-width="1.7"/>
<text x="430" y="769.85" font-size="10.5" font-weight="bold" fill="#111" stroke="#111" stroke-width="0.3">60</text>
<text x="430" y="793.1" font-size="10.5" font-weight="bold" fill="#111" stroke="#111" stroke-width="0.3">86</text>
<text x="430" y="816.4" font-size="10.5" font-weight="bold" fill="#111" stroke="#111" stroke-width="0.3">69</text>
<text x="430" y="840.1" font-size="10.5" font-weight="bold" fill="#111" stroke="#111" stroke-width="0.3">95</text>
<text x="430" y="863.35" font-size="10.5" font-weight="bold" fill="#111" stroke="#111" stroke-width="0.3">43</text>
<text x="284.6" y="751.8" font-size="11.3" font-weight="bold" transform="rotate(-12.8 284.6 751.8)" textLength="27.3" lengthAdjust="spacingAndGlyphs" fill="#111" stroke="#111" stroke-width="0.3">si-NC</text>
<text x="315.2" y="750.5" font-size="11.3" font-weight="bold" transform="rotate(-12.8 315.2 750.5)" textLength="78.5" lengthAdjust="spacingAndGlyphs" fill="#111" stroke="#111" stroke-width="0.3">si-miR503HG-2#</text>
<text x="371.2" y="750.5" font-size="11.3" font-weight="bold" transform="rotate(-12.8 371.2 750.5)" textLength="27.3" lengthAdjust="spacingAndGlyphs" fill="#111" stroke="#111" stroke-width="0.3">si-NC</text>
<text x="402.5" y="749.7" font-size="11.3" font-weight="bold" transform="rotate(-12.8 402.5 749.7)" textLength="78.5" lengthAdjust="spacingAndGlyphs" fill="#111" stroke="#111" stroke-width="0.3">si-miR503HG-2#</text>
<text x="430.8" y="753.7" font-size="10" font-weight="bold" fill="#111" stroke="#111" stroke-width="0.3">kDa</text>
<text x="309" y="881.7" font-size="10" font-weight="bold" text-anchor="middle" textLength="57.5" lengthAdjust="spacingAndGlyphs" fill="#111" stroke="#111" stroke-width="0.3">SMMC-7721</text>
<text x="390.2" y="881.7" font-size="10" font-weight="bold" text-anchor="middle" textLength="25.5" lengthAdjust="spacingAndGlyphs" fill="#111" stroke="#111" stroke-width="0.3">Huh7</text>
<text x="520.8" y="753.7" font-size="18.5" font-weight="bold" fill="#111" stroke="#111" stroke-width="0.3">I</text>
<clipPath id="c64"><rect x="567.60" y="757.60" width="74.30" height="18.40"/></clipPath>
<g clip-path="url(#c64)">
<rect x="567.60" y="757.60" width="74.30" height="18.40" fill="#d2d2d2"/>
<rect x="600.06" y="754.33" width="11.91" height="23.82" fill="#ffffff" filter="url(#bl1)"/>
<rect x="611.98" y="754.33" width="30.32" height="23.82" fill="#e2e2e2" filter="url(#bl1)"/>
<rect x="570.83" y="767.86" width="28.15" height="7.60" rx="8.34" ry="3.80" fill="#858585" filter="url(#bl2)"/>
<rect x="613.06" y="764.04" width="25.99" height="4.40" rx="5.46" ry="2.20" fill="#707070" filter="url(#bl1)" transform="rotate(-5.71 626.05 766.24)"/>
</g>
<rect x="567.60" y="757.60" width="74.30" height="18.40" fill="none" stroke="#151515" stroke-width="1.7"/>
<clipPath id="c65"><rect x="651.00" y="757.60" width="75.30" height="18.40"/></clipPath>
<g clip-path="url(#c65)">
<rect x="651.00" y="757.60" width="75.30" height="18.40" fill="#dadada"/>
<rect x="655.29" y="764.85" width="30.32" height="7.12" rx="7.91" ry="3.56" fill="#3a3a3a" filter="url(#bl2)"/>
<rect x="693.19" y="765.08" width="28.15" height="6.65" rx="7.48" ry="3.32" fill="#5e5e5e" filter="url(#bl2)"/>
</g>
<rect x="651.00" y="757.60" width="75.30" height="18.40" fill="none" stroke="#151515" stroke-width="1.7"/>
<clipPath id="c66"><rect x="567.60" y="779.90" width="74.30" height="18.20"/></clipPath>
<g clip-path="url(#c66)">
<rect x="567.60" y="779.90" width="74.30" height="18.20" fill="#d6d6d6"/>
<rect x="571.91" y="787.86" width="27.07" height="4.40" rx="5.46" ry="2.20" fill="#4e4e4e" filter="url(#bl1)"/>
<rect x="607.21" y="787.00" width="24.26" height="3.96" rx="5.06" ry="1.98" fill="#5e5e5e" filter="url(#bl1)" transform="rotate(-2.05 619.34 788.98)"/>
</g>
<rect x="567.60" y="779.90" width="74.30" height="18.20" fill="none" stroke="#151515" stroke-width="1.7"/>
<clipPath id="c67"><rect x="651.00" y="779.90" width="75.30" height="18.20"/></clipPath>
<g clip-path="url(#c67)">
<rect x="651.00" y="779.90" width="75.30" height="18.20" fill="#e2e2e2"/>
<rect x="656.37" y="787.65" width="31.40" height="3.96" rx="5.06" ry="1.98" fill="#2e2e2e" filter="url(#bl1)"/>
<rect x="689.94" y="787.44" width="25.99" height="3.08" rx="4.27" ry="1.54" fill="#4e4e4e" filter="url(#bl1)"/>
</g>
<rect x="651.00" y="779.90" width="75.30" height="18.20" fill="none" stroke="#151515" stroke-width="1.7"/>
<clipPath id="c68"><rect x="567.60" y="802.40" width="74.30" height="18.00"/></clipPath>
<g clip-path="url(#c68)">
<rect x="567.60" y="802.40" width="74.30" height="18.00" fill="#dadada"/>
<rect x="570.83" y="808.20" width="25.99" height="7.04" rx="7.84" ry="3.52" fill="#222" filter="url(#bl1)"/>
<rect x="610.89" y="806.70" width="23.82" height="5.70" rx="6.63" ry="2.85" fill="#808080" filter="url(#bl2)"/>
</g>
<rect x="567.60" y="802.40" width="74.30" height="18.00" fill="none" stroke="#151515" stroke-width="1.7"/>
<clipPath id="c69"><rect x="651.00" y="802.40" width="75.30" height="18.00"/></clipPath>
<g clip-path="url(#c69)">
<rect x="651.00" y="802.40" width="75.30" height="18.00" fill="#e2e2e2"/>
<rect x="656.37" y="808.77" width="29.24" height="8.07" rx="8.77" ry="4.04" fill="#505050" filter="url(#bl2)"/>
<rect x="696.43" y="810.39" width="24.90" height="5.70" rx="6.63" ry="2.85" fill="#808080" filter="url(#bl2)"/>
</g>
<rect x="651.00" y="802.40" width="75.30" height="18.00" fill="none" stroke="#151515" stroke-width="1.7"/>
<clipPath id="c70"><rect x="567.60" y="824.70" width="74.30" height="18.40"/></clipPath>
<g clip-path="url(#c70)">
<rect x="567.60" y="824.70" width="74.30" height="18.40" fill="#e2e2e2"/>
<rect x="570.83" y="831.18" width="25.99" height="4.40" rx="5.46" ry="2.20" fill="#707070" filter="url(#bl1)"/>
<rect x="611.98" y="832.69" width="23.82" height="5.70" rx="6.63" ry="2.85" fill="#969696" filter="url(#bl2)"/>
</g>
<rect x="567.60" y="824.70" width="74.30" height="18.40" fill="none" stroke="#151515" stroke-width="1.7"/>
<clipPath id="c71"><rect x="651.00" y="824.70" width="75.30" height="18.40"/></clipPath>
<g clip-path="url(#c71)">
<rect x="651.00" y="824.70" width="75.30" height="18.40" fill="#cacaca"/>
<rect x="685.61" y="823.63" width="7.58" height="20.57" fill="#e6e6e6" filter="url(#bl2)"/>
<rect x="655.29" y="831.13" width="30.32" height="6.65" rx="7.48" ry="3.32" fill="#969696" filter="url(#bl2)"/>
<rect x="694.27" y="831.31" width="27.07" height="7.60" rx="8.34" ry="3.80" fill="#969696" filter="url(#bl2)"/>
</g>
<rect x="651.00" y="824.70" width="75.30" height="18.40" fill="none" stroke="#151515" stroke-width="1.7"/>
<clipPath id="c72"><rect x="567.60" y="847.00" width="74.30" height="17.80"/></clipPath>
<g clip-path="url(#c72)">
<rect x="567.60" y="847.00" width="74.30" height="17.80" fill="#dadada"/>
<rect x="570.83" y="853.03" width="31.40" height="7.04" rx="7.84" ry="3.52" fill="#1e1e1e" filter="url(#bl1)"/>
<rect x="608.73" y="853.69" width="29.24" height="6.16" rx="7.04" ry="3.08" fill="#1e1e1e" filter="url(#bl1)"/>
</g>
<rect x="567.60" y="847.00" width="74.30" height="17.80" fill="none" stroke="#151515" stroke-width="1.7"/>
<clipPath id="c73"><rect x="651.00" y="847.00" width="75.30" height="17.80"/></clipPath>
<g clip-path="url(#c73)">
<rect x="651.00" y="847.00" width="75.30" height="17.80" fill="#d2d2d2"/>
<rect x="655.29" y="852.16" width="30.32" height="7.92" rx="8.63" ry="3.96" fill="#1e1e1e" filter="url(#bl1)"/>
<rect x="692.54" y="851.08" width="24.47" height="7.04" rx="7.84" ry="3.52" fill="#1e1e1e" filter="url(#bl1)"/>
</g>
<rect x="651.00" y="847.00" width="75.30" height="17.80" fill="none" stroke="#151515" stroke-width="1.7"/>
<text x="562.1" y="770.6" font-size="10.5" font-weight="bold" text-anchor="end" fill="#111" stroke="#111" stroke-width="0.3">c-myc</text>
<text x="562.1" y="792.8" font-size="10.5" font-weight="bold" text-anchor="end" fill="#111" stroke="#111" stroke-width="0.3">EZH2</text>
<text x="562.1" y="815.2" font-size="10.5" font-weight="bold" text-anchor="end" fill="#111" stroke="#111" stroke-width="0.3">COX2</text>
<text x="562.1" y="837.7" font-size="10.5" font-weight="bold" text-anchor="end" fill="#111" stroke="#111" stroke-width="0.3">VCAM1</text>
<text x="562.1" y="859.7" font-size="10.5" font-weight="bold" text-anchor="end" fill="#111" stroke="#111" stroke-width="0.3">β-actin</text>
<text x="727.6" y="770.6" font-size="10.5" font-weight="bold" fill="#111" stroke="#111" stroke-width="0.3">60</text>
<text x="727.6" y="792.8" font-size="10.5" font-weight="bold" fill="#111" stroke="#111" stroke-width="0.3">86</text>
<text x="727.6" y="815.2" font-size="10.5" font-weight="bold" fill="#111" stroke="#111" stroke-width="0.3">69</text>
<text x="727.6" y="837.7" font-size="10.5" font-weight="bold" fill="#111" stroke="#111" stroke-width="0.3">95</text>
<text x="727.6" y="859.7" font-size="10.5" font-weight="bold" fill="#111" stroke="#111" stroke-width="0.3">43</text>
<text x="576.9" y="753" font-size="11.3" font-weight="bold" transform="rotate(-12.8 576.9 753)" textLength="30.5" lengthAdjust="spacingAndGlyphs" fill="#111" stroke="#111" stroke-width="0.3">vector</text>
<text x="618.4" y="753" font-size="11.3" font-weight="bold" transform="rotate(-12.8 618.4 753)" textLength="51.5" lengthAdjust="spacingAndGlyphs" fill="#111" stroke="#111" stroke-width="0.3">miR503HG</text>
<text x="668.6" y="751.8" font-size="11.3" font-weight="bold" transform="rotate(-12.8 668.6 751.8)" textLength="30.5" lengthAdjust="spacingAndGlyphs" fill="#111" stroke="#111" stroke-width="0.3">vector</text>
<text x="709.3" y="751.8" font-size="11.3" font-weight="bold" transform="rotate(-12.8 709.3 751.8)" textLength="51.5" lengthAdjust="spacingAndGlyphs" fill="#111" stroke="#111" stroke-width="0.3">miR503HG</text>
<text x="728.2" y="758" font-size="10" font-weight="bold" fill="#111" stroke="#111" stroke-width="0.3">kDa</text>
<text x="606.2" y="875.5" font-size="10" font-weight="bold" text-anchor="middle" textLength="58.5" lengthAdjust="spacingAndGlyphs" fill="#111" stroke="#111" stroke-width="0.3">SMMC-7721</text>
<text x="692.5" y="875.5" font-size="10" font-weight="bold" text-anchor="middle" textLength="25.5" lengthAdjust="spacingAndGlyphs" fill="#111" stroke="#111" stroke-width="0.3">Huh7</text>
</svg>
</body></html>
